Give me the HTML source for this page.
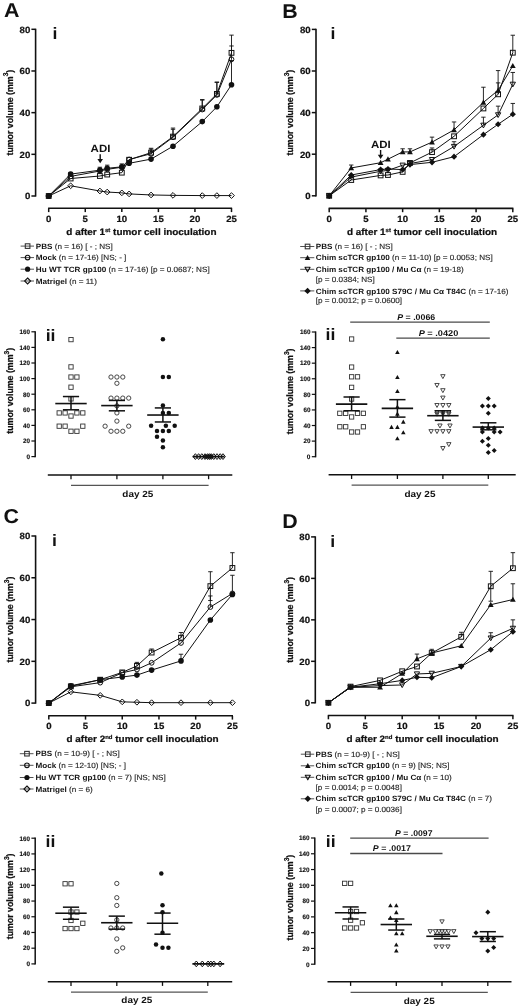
<!DOCTYPE html>
<html><head><meta charset="utf-8"><title>figure</title>
<style>
html,body{margin:0;padding:0;background:#fff;}
body{width:520px;height:1008px;overflow:hidden;font-family:"Liberation Sans", sans-serif;}
svg{display:block;will-change:transform;text-rendering:geometricPrecision;}
</style></head><body>
<svg width="520" height="1008" viewBox="0 0 520 1008" font-family='"Liberation Sans", sans-serif'>
<rect width="520" height="1008" fill="#fff"/>
<text transform="translate(4,17.4) scale(1.07,1)" font-size="20" font-weight="bold" text-anchor="start" fill="#111">A</text>
<text transform="translate(282.2,17.5) scale(1.07,1)" font-size="20" font-weight="bold" text-anchor="start" fill="#111">B</text>
<text transform="translate(3.6,523.3) scale(1.07,1)" font-size="20" font-weight="bold" text-anchor="start" fill="#111">C</text>
<text transform="translate(282.2,527.6) scale(1.07,1)" font-size="20" font-weight="bold" text-anchor="start" fill="#111">D</text>
<line x1="35.6" y1="28.7" x2="35.6" y2="196.6" stroke="#111" stroke-width="1.6"/>
<line x1="31.4" y1="196" x2="35.6" y2="196" stroke="#111" stroke-width="1.5"/>
<text transform="translate(30.3,199.3) scale(1.07,1)" font-size="9" font-weight="bold" text-anchor="end" fill="#111" stroke="#111" stroke-width="0.2">0</text>
<line x1="31.4" y1="154.32" x2="35.6" y2="154.32" stroke="#111" stroke-width="1.5"/>
<text transform="translate(30.3,157.62) scale(1.07,1)" font-size="9" font-weight="bold" text-anchor="end" fill="#111" stroke="#111" stroke-width="0.2">20</text>
<line x1="31.4" y1="112.65" x2="35.6" y2="112.65" stroke="#111" stroke-width="1.5"/>
<text transform="translate(30.3,115.95) scale(1.07,1)" font-size="9" font-weight="bold" text-anchor="end" fill="#111" stroke="#111" stroke-width="0.2">40</text>
<line x1="31.4" y1="70.98" x2="35.6" y2="70.98" stroke="#111" stroke-width="1.5"/>
<text transform="translate(30.3,74.28) scale(1.07,1)" font-size="9" font-weight="bold" text-anchor="end" fill="#111" stroke="#111" stroke-width="0.2">60</text>
<line x1="31.4" y1="29.3" x2="35.6" y2="29.3" stroke="#111" stroke-width="1.5"/>
<text transform="translate(30.3,32.6) scale(1.07,1)" font-size="9" font-weight="bold" text-anchor="end" fill="#111" stroke="#111" stroke-width="0.2">80</text>
<text transform="translate(12.6,112.65) scale(1.07,1) rotate(-90)" font-size="8.8" font-weight="bold" text-anchor="middle" fill="#111" stroke="#111" stroke-width="0.22">tumor volume (mm<tspan dy="-3.9" font-size="6.6">3</tspan><tspan dy="3.9">)</tspan></text>
<text transform="translate(52.6,38.6) scale(1.07,1)" font-size="16.5" font-weight="bold" text-anchor="start" fill="#111">i</text>
<line x1="48.1" y1="208.3" x2="232.1" y2="208.3" stroke="#111" stroke-width="1.6"/>
<line x1="48.7" y1="208.3" x2="48.7" y2="212.1" stroke="#111" stroke-width="1.5"/>
<text transform="translate(48.7,221.8) scale(1.07,1)" font-size="9" font-weight="bold" text-anchor="middle" fill="#111" stroke="#111" stroke-width="0.2">0</text>
<line x1="85.26" y1="208.3" x2="85.26" y2="212.1" stroke="#111" stroke-width="1.5"/>
<text transform="translate(85.26,221.8) scale(1.07,1)" font-size="9" font-weight="bold" text-anchor="middle" fill="#111" stroke="#111" stroke-width="0.2">5</text>
<line x1="121.82" y1="208.3" x2="121.82" y2="212.1" stroke="#111" stroke-width="1.5"/>
<text transform="translate(121.82,221.8) scale(1.07,1)" font-size="9" font-weight="bold" text-anchor="middle" fill="#111" stroke="#111" stroke-width="0.2">10</text>
<line x1="158.38" y1="208.3" x2="158.38" y2="212.1" stroke="#111" stroke-width="1.5"/>
<text transform="translate(158.38,221.8) scale(1.07,1)" font-size="9" font-weight="bold" text-anchor="middle" fill="#111" stroke="#111" stroke-width="0.2">15</text>
<line x1="194.94" y1="208.3" x2="194.94" y2="212.1" stroke="#111" stroke-width="1.5"/>
<text transform="translate(194.94,221.8) scale(1.07,1)" font-size="9" font-weight="bold" text-anchor="middle" fill="#111" stroke="#111" stroke-width="0.2">20</text>
<line x1="231.5" y1="208.3" x2="231.5" y2="212.1" stroke="#111" stroke-width="1.5"/>
<text transform="translate(231.5,221.8) scale(1.07,1)" font-size="9" font-weight="bold" text-anchor="middle" fill="#111" stroke="#111" stroke-width="0.2">25</text>
<text transform="translate(66.3,235.4) scale(1.07,1)" font-size="9.3" font-weight="bold" text-anchor="start" fill="#111" stroke="#111" stroke-width="0.22">d after 1<tspan dy="-3.6" font-size="5.6">st</tspan><tspan dy="3.6"> tumor cell inoculation</tspan></text>
<text transform="translate(90.6,151.8) scale(1.07,1)" font-size="10.6" font-weight="bold" text-anchor="start" fill="#111" textLength="18.5" lengthAdjust="spacingAndGlyphs">ADI</text>
<line x1="100.2" y1="154.3" x2="100.2" y2="161.3" stroke="#111" stroke-width="1.4"/>
<polygon points="97.4,159 103,159 100.2,163.3" fill="#111"/>
<polyline points="48.7,196 70.64,185.79 99.88,191 107.2,192.04 121.82,192.87 129.13,193.92 151.07,194.96 173,195.37 202.25,195.58 216.88,195.58 231.5,195.58" fill="none" stroke="#111" stroke-width="1" stroke-linejoin="round"/>
<polygon points="48.7,193.14 51.56,196 48.7,198.86 45.84,196" fill="none" stroke="#111" stroke-width="1"/>
<polygon points="70.64,182.93 73.5,185.79 70.64,188.65 67.78,185.79" fill="none" stroke="#111" stroke-width="1"/>
<polygon points="99.88,188.14 102.74,191 99.88,193.86 97.02,191" fill="none" stroke="#111" stroke-width="1"/>
<polygon points="107.2,189.18 110.06,192.04 107.2,194.9 104.34,192.04" fill="none" stroke="#111" stroke-width="1"/>
<polygon points="121.82,190.01 124.68,192.87 121.82,195.73 118.96,192.87" fill="none" stroke="#111" stroke-width="1"/>
<polygon points="129.13,191.06 131.99,193.92 129.13,196.78 126.27,193.92" fill="none" stroke="#111" stroke-width="1"/>
<polygon points="151.07,192.1 153.93,194.96 151.07,197.82 148.21,194.96" fill="none" stroke="#111" stroke-width="1"/>
<polygon points="173,192.51 175.86,195.37 173,198.23 170.14,195.37" fill="none" stroke="#111" stroke-width="1"/>
<polygon points="202.25,192.72 205.11,195.58 202.25,198.44 199.39,195.58" fill="none" stroke="#111" stroke-width="1"/>
<polygon points="216.88,192.72 219.74,195.58 216.88,198.44 214.02,195.58" fill="none" stroke="#111" stroke-width="1"/>
<polygon points="231.5,192.72 234.36,195.58 231.5,198.44 228.64,195.58" fill="none" stroke="#111" stroke-width="1"/>
<polyline points="48.7,196 70.64,178.5 99.88,176 107.2,174.54 121.82,172.66 129.13,159.74 151.07,152.66 173,136.61 202.25,108.48 216.88,93.9 231.5,52.85" fill="none" stroke="#111" stroke-width="1" stroke-linejoin="round"/>
<line x1="231.5" y1="52.85" x2="231.5" y2="35.13" stroke="#111" stroke-width="0.9"/>
<line x1="229.3" y1="35.13" x2="233.7" y2="35.13" stroke="#111" stroke-width="0.9"/>
<line x1="151.07" y1="152.66" x2="151.07" y2="148.28" stroke="#111" stroke-width="0.9"/>
<line x1="148.87" y1="148.28" x2="153.27" y2="148.28" stroke="#111" stroke-width="0.9"/>
<line x1="173" y1="136.61" x2="173" y2="128.07" stroke="#111" stroke-width="0.9"/>
<line x1="170.8" y1="128.07" x2="175.2" y2="128.07" stroke="#111" stroke-width="0.9"/>
<line x1="202.25" y1="108.48" x2="202.25" y2="99.52" stroke="#111" stroke-width="0.9"/>
<line x1="200.05" y1="99.52" x2="204.45" y2="99.52" stroke="#111" stroke-width="0.9"/>
<line x1="216.88" y1="93.9" x2="216.88" y2="82.02" stroke="#111" stroke-width="0.9"/>
<line x1="214.68" y1="82.02" x2="219.08" y2="82.02" stroke="#111" stroke-width="0.9"/>
<rect x="46.3" y="193.6" width="4.8" height="4.8" fill="none" stroke="#111" stroke-width="1"/>
<rect x="68.24" y="176.1" width="4.8" height="4.8" fill="none" stroke="#111" stroke-width="1"/>
<rect x="97.48" y="173.6" width="4.8" height="4.8" fill="none" stroke="#111" stroke-width="1"/>
<rect x="104.8" y="172.14" width="4.8" height="4.8" fill="none" stroke="#111" stroke-width="1"/>
<rect x="119.42" y="170.26" width="4.8" height="4.8" fill="none" stroke="#111" stroke-width="1"/>
<rect x="126.73" y="157.34" width="4.8" height="4.8" fill="none" stroke="#111" stroke-width="1"/>
<rect x="148.67" y="150.26" width="4.8" height="4.8" fill="none" stroke="#111" stroke-width="1"/>
<rect x="170.6" y="134.21" width="4.8" height="4.8" fill="none" stroke="#111" stroke-width="1"/>
<rect x="199.85" y="106.08" width="4.8" height="4.8" fill="none" stroke="#111" stroke-width="1"/>
<rect x="214.48" y="91.5" width="4.8" height="4.8" fill="none" stroke="#111" stroke-width="1"/>
<rect x="229.1" y="50.45" width="4.8" height="4.8" fill="none" stroke="#111" stroke-width="1"/>
<polyline points="48.7,196 70.64,176.41 99.88,171 107.2,169.33 121.82,167.24 129.13,159.53 151.07,153.7 173,137.24 202.25,109.52 216.88,94.94 231.5,59.31" fill="none" stroke="#111" stroke-width="1" stroke-linejoin="round"/>
<line x1="151.07" y1="153.7" x2="151.07" y2="149.12" stroke="#111" stroke-width="0.9"/>
<line x1="148.87" y1="149.12" x2="153.27" y2="149.12" stroke="#111" stroke-width="0.9"/>
<line x1="173" y1="137.24" x2="173" y2="129.32" stroke="#111" stroke-width="0.9"/>
<line x1="170.8" y1="129.32" x2="175.2" y2="129.32" stroke="#111" stroke-width="0.9"/>
<line x1="202.25" y1="109.52" x2="202.25" y2="100.15" stroke="#111" stroke-width="0.9"/>
<line x1="200.05" y1="100.15" x2="204.45" y2="100.15" stroke="#111" stroke-width="0.9"/>
<line x1="216.88" y1="94.94" x2="216.88" y2="82.44" stroke="#111" stroke-width="0.9"/>
<line x1="214.68" y1="82.44" x2="219.08" y2="82.44" stroke="#111" stroke-width="0.9"/>
<line x1="231.5" y1="59.31" x2="231.5" y2="45.97" stroke="#111" stroke-width="0.9"/>
<line x1="229.3" y1="45.97" x2="233.7" y2="45.97" stroke="#111" stroke-width="0.9"/>
<circle cx="48.7" cy="196" r="2.4" fill="none" stroke="#111" stroke-width="1"/>
<circle cx="70.64" cy="176.41" r="2.4" fill="none" stroke="#111" stroke-width="1"/>
<circle cx="99.88" cy="171" r="2.4" fill="none" stroke="#111" stroke-width="1"/>
<circle cx="107.2" cy="169.33" r="2.4" fill="none" stroke="#111" stroke-width="1"/>
<circle cx="121.82" cy="167.24" r="2.4" fill="none" stroke="#111" stroke-width="1"/>
<circle cx="129.13" cy="159.53" r="2.4" fill="none" stroke="#111" stroke-width="1"/>
<circle cx="151.07" cy="153.7" r="2.4" fill="none" stroke="#111" stroke-width="1"/>
<circle cx="173" cy="137.24" r="2.4" fill="none" stroke="#111" stroke-width="1"/>
<circle cx="202.25" cy="109.52" r="2.4" fill="none" stroke="#111" stroke-width="1"/>
<circle cx="216.88" cy="94.94" r="2.4" fill="none" stroke="#111" stroke-width="1"/>
<circle cx="231.5" cy="59.31" r="2.4" fill="none" stroke="#111" stroke-width="1"/>
<polyline points="48.7,196 70.64,174.12 99.88,170.16 107.2,168.29 121.82,166.83 129.13,163.29 151.07,159.12 173,146.2 202.25,121.61 216.88,106.82 231.5,84.73" fill="none" stroke="#111" stroke-width="1" stroke-linejoin="round"/>
<line x1="231.5" y1="84.73" x2="231.5" y2="60.56" stroke="#111" stroke-width="0.9"/>
<line x1="229.3" y1="60.56" x2="233.7" y2="60.56" stroke="#111" stroke-width="0.9"/>
<line x1="99.88" y1="170.16" x2="99.88" y2="167.24" stroke="#111" stroke-width="0.9"/>
<line x1="97.68" y1="167.24" x2="102.08" y2="167.24" stroke="#111" stroke-width="0.9"/>
<line x1="107.2" y1="168.29" x2="107.2" y2="165.16" stroke="#111" stroke-width="0.9"/>
<line x1="105" y1="165.16" x2="109.4" y2="165.16" stroke="#111" stroke-width="0.9"/>
<line x1="121.82" y1="166.83" x2="121.82" y2="163.91" stroke="#111" stroke-width="0.9"/>
<line x1="119.62" y1="163.91" x2="124.02" y2="163.91" stroke="#111" stroke-width="0.9"/>
<line x1="129.13" y1="163.29" x2="129.13" y2="160.58" stroke="#111" stroke-width="0.9"/>
<line x1="126.93" y1="160.58" x2="131.33" y2="160.58" stroke="#111" stroke-width="0.9"/>
<line x1="70.64" y1="174.12" x2="70.64" y2="172.45" stroke="#111" stroke-width="0.9"/>
<line x1="68.44" y1="172.45" x2="72.84" y2="172.45" stroke="#111" stroke-width="0.9"/>
<circle cx="48.7" cy="196" r="2.8" fill="#111"/>
<circle cx="70.64" cy="174.12" r="2.8" fill="#111"/>
<circle cx="99.88" cy="170.16" r="2.8" fill="#111"/>
<circle cx="107.2" cy="168.29" r="2.8" fill="#111"/>
<circle cx="121.82" cy="166.83" r="2.8" fill="#111"/>
<circle cx="129.13" cy="163.29" r="2.8" fill="#111"/>
<circle cx="151.07" cy="159.12" r="2.8" fill="#111"/>
<circle cx="173" cy="146.2" r="2.8" fill="#111"/>
<circle cx="202.25" cy="121.61" r="2.8" fill="#111"/>
<circle cx="216.88" cy="106.82" r="2.8" fill="#111"/>
<circle cx="231.5" cy="84.73" r="2.8" fill="#111"/>
<line x1="316" y1="28.8" x2="316" y2="196.4" stroke="#111" stroke-width="1.6"/>
<line x1="311.8" y1="195.8" x2="316" y2="195.8" stroke="#111" stroke-width="1.5"/>
<text transform="translate(310.7,199.1) scale(1.07,1)" font-size="9" font-weight="bold" text-anchor="end" fill="#111" stroke="#111" stroke-width="0.2">0</text>
<line x1="311.8" y1="154.2" x2="316" y2="154.2" stroke="#111" stroke-width="1.5"/>
<text transform="translate(310.7,157.5) scale(1.07,1)" font-size="9" font-weight="bold" text-anchor="end" fill="#111" stroke="#111" stroke-width="0.2">20</text>
<line x1="311.8" y1="112.6" x2="316" y2="112.6" stroke="#111" stroke-width="1.5"/>
<text transform="translate(310.7,115.9) scale(1.07,1)" font-size="9" font-weight="bold" text-anchor="end" fill="#111" stroke="#111" stroke-width="0.2">40</text>
<line x1="311.8" y1="71" x2="316" y2="71" stroke="#111" stroke-width="1.5"/>
<text transform="translate(310.7,74.3) scale(1.07,1)" font-size="9" font-weight="bold" text-anchor="end" fill="#111" stroke="#111" stroke-width="0.2">60</text>
<line x1="311.8" y1="29.4" x2="316" y2="29.4" stroke="#111" stroke-width="1.5"/>
<text transform="translate(310.7,32.7) scale(1.07,1)" font-size="9" font-weight="bold" text-anchor="end" fill="#111" stroke="#111" stroke-width="0.2">80</text>
<text transform="translate(293.4,112.6) scale(1.07,1) rotate(-90)" font-size="8.8" font-weight="bold" text-anchor="middle" fill="#111" stroke="#111" stroke-width="0.22">tumor volume (mm<tspan dy="-3.9" font-size="6.6">3</tspan><tspan dy="3.9">)</tspan></text>
<text transform="translate(330.6,38.6) scale(1.07,1)" font-size="16.5" font-weight="bold" text-anchor="start" fill="#111">i</text>
<line x1="328.6" y1="208.4" x2="513.4" y2="208.4" stroke="#111" stroke-width="1.6"/>
<line x1="329.2" y1="208.4" x2="329.2" y2="212.2" stroke="#111" stroke-width="1.5"/>
<text transform="translate(329.2,221.9) scale(1.07,1)" font-size="9" font-weight="bold" text-anchor="middle" fill="#111" stroke="#111" stroke-width="0.2">0</text>
<line x1="365.92" y1="208.4" x2="365.92" y2="212.2" stroke="#111" stroke-width="1.5"/>
<text transform="translate(365.92,221.9) scale(1.07,1)" font-size="9" font-weight="bold" text-anchor="middle" fill="#111" stroke="#111" stroke-width="0.2">5</text>
<line x1="402.64" y1="208.4" x2="402.64" y2="212.2" stroke="#111" stroke-width="1.5"/>
<text transform="translate(402.64,221.9) scale(1.07,1)" font-size="9" font-weight="bold" text-anchor="middle" fill="#111" stroke="#111" stroke-width="0.2">10</text>
<line x1="439.36" y1="208.4" x2="439.36" y2="212.2" stroke="#111" stroke-width="1.5"/>
<text transform="translate(439.36,221.9) scale(1.07,1)" font-size="9" font-weight="bold" text-anchor="middle" fill="#111" stroke="#111" stroke-width="0.2">15</text>
<line x1="476.08" y1="208.4" x2="476.08" y2="212.2" stroke="#111" stroke-width="1.5"/>
<text transform="translate(476.08,221.9) scale(1.07,1)" font-size="9" font-weight="bold" text-anchor="middle" fill="#111" stroke="#111" stroke-width="0.2">20</text>
<line x1="512.8" y1="208.4" x2="512.8" y2="212.2" stroke="#111" stroke-width="1.5"/>
<text transform="translate(512.8,221.9) scale(1.07,1)" font-size="9" font-weight="bold" text-anchor="middle" fill="#111" stroke="#111" stroke-width="0.2">25</text>
<text transform="translate(346.9,235.4) scale(1.07,1)" font-size="9.3" font-weight="bold" text-anchor="start" fill="#111" stroke="#111" stroke-width="0.22">d after 1<tspan dy="-3.6" font-size="5.6">st</tspan><tspan dy="3.6"> tumor cell inoculation</tspan></text>
<text transform="translate(371,147.5) scale(1.07,1)" font-size="10.6" font-weight="bold" text-anchor="start" fill="#111" textLength="18.5" lengthAdjust="spacingAndGlyphs">ADI</text>
<line x1="380.6" y1="150" x2="380.6" y2="157" stroke="#111" stroke-width="1.4"/>
<polygon points="377.8,154.7 383.4,154.7 380.6,159" fill="#111"/>
<polyline points="329.2,195.8 351.23,179.99 380.61,175.42 387.95,175 402.64,171.88 409.98,162.94 432.02,152.12 454.05,136.31 483.42,108.44 498.11,94.3 512.8,52.7" fill="none" stroke="#111" stroke-width="1" stroke-linejoin="round"/>
<line x1="512.8" y1="52.7" x2="512.8" y2="35.22" stroke="#111" stroke-width="0.9"/>
<line x1="510.6" y1="35.22" x2="515" y2="35.22" stroke="#111" stroke-width="0.9"/>
<line x1="498.11" y1="94.3" x2="498.11" y2="82.86" stroke="#111" stroke-width="0.9"/>
<line x1="495.91" y1="82.86" x2="500.31" y2="82.86" stroke="#111" stroke-width="0.9"/>
<line x1="432.02" y1="152.12" x2="432.02" y2="147.96" stroke="#111" stroke-width="0.9"/>
<line x1="429.82" y1="147.96" x2="434.22" y2="147.96" stroke="#111" stroke-width="0.9"/>
<rect x="326.8" y="193.4" width="4.8" height="4.8" fill="none" stroke="#111" stroke-width="1"/>
<rect x="348.83" y="177.59" width="4.8" height="4.8" fill="none" stroke="#111" stroke-width="1"/>
<rect x="378.21" y="173.02" width="4.8" height="4.8" fill="none" stroke="#111" stroke-width="1"/>
<rect x="385.55" y="172.6" width="4.8" height="4.8" fill="none" stroke="#111" stroke-width="1"/>
<rect x="400.24" y="169.48" width="4.8" height="4.8" fill="none" stroke="#111" stroke-width="1"/>
<rect x="407.58" y="160.54" width="4.8" height="4.8" fill="none" stroke="#111" stroke-width="1"/>
<rect x="429.62" y="149.72" width="4.8" height="4.8" fill="none" stroke="#111" stroke-width="1"/>
<rect x="451.65" y="133.91" width="4.8" height="4.8" fill="none" stroke="#111" stroke-width="1"/>
<rect x="481.02" y="106.04" width="4.8" height="4.8" fill="none" stroke="#111" stroke-width="1"/>
<rect x="495.71" y="91.9" width="4.8" height="4.8" fill="none" stroke="#111" stroke-width="1"/>
<rect x="510.4" y="50.3" width="4.8" height="4.8" fill="none" stroke="#111" stroke-width="1"/>
<polyline points="329.2,195.8 351.23,167.93 380.61,162.73 387.95,159.19 402.64,151.91 409.98,151.91 432.02,142.14 454.05,129.86 483.42,102.41 498.11,90.34 512.8,65.8" fill="none" stroke="#111" stroke-width="1" stroke-linejoin="round"/>
<line x1="351.23" y1="167.93" x2="351.23" y2="165.02" stroke="#111" stroke-width="0.9"/>
<line x1="349.03" y1="165.02" x2="353.43" y2="165.02" stroke="#111" stroke-width="0.9"/>
<line x1="402.64" y1="151.91" x2="402.64" y2="148.79" stroke="#111" stroke-width="0.9"/>
<line x1="400.44" y1="148.79" x2="404.84" y2="148.79" stroke="#111" stroke-width="0.9"/>
<line x1="409.98" y1="151.91" x2="409.98" y2="148.79" stroke="#111" stroke-width="0.9"/>
<line x1="407.78" y1="148.79" x2="412.18" y2="148.79" stroke="#111" stroke-width="0.9"/>
<line x1="432.02" y1="142.14" x2="432.02" y2="137.14" stroke="#111" stroke-width="0.9"/>
<line x1="429.82" y1="137.14" x2="434.22" y2="137.14" stroke="#111" stroke-width="0.9"/>
<line x1="454.05" y1="129.86" x2="454.05" y2="121.96" stroke="#111" stroke-width="0.9"/>
<line x1="451.85" y1="121.96" x2="456.25" y2="121.96" stroke="#111" stroke-width="0.9"/>
<line x1="483.42" y1="102.41" x2="483.42" y2="87.22" stroke="#111" stroke-width="0.9"/>
<line x1="481.22" y1="87.22" x2="485.62" y2="87.22" stroke="#111" stroke-width="0.9"/>
<line x1="498.11" y1="90.34" x2="498.11" y2="70.58" stroke="#111" stroke-width="0.9"/>
<line x1="495.91" y1="70.58" x2="500.31" y2="70.58" stroke="#111" stroke-width="0.9"/>
<polygon points="329.2,192.92 332.08,198.1 326.32,198.1" fill="#111"/>
<polygon points="351.23,165.05 354.11,170.23 348.35,170.23" fill="#111"/>
<polygon points="380.61,159.85 383.49,165.03 377.73,165.03" fill="#111"/>
<polygon points="387.95,156.31 390.83,161.5 385.07,161.5" fill="#111"/>
<polygon points="402.64,149.03 405.52,154.22 399.76,154.22" fill="#111"/>
<polygon points="409.98,149.03 412.86,154.22 407.1,154.22" fill="#111"/>
<polygon points="432.02,139.26 434.9,144.44 429.14,144.44" fill="#111"/>
<polygon points="454.05,126.98 456.93,132.17 451.17,132.17" fill="#111"/>
<polygon points="483.42,99.53 486.3,104.71 480.54,104.71" fill="#111"/>
<polygon points="498.11,87.46 500.99,92.65 495.23,92.65" fill="#111"/>
<polygon points="512.8,62.92 515.68,68.1 509.92,68.1" fill="#111"/>
<polyline points="329.2,195.8 351.23,177.08 380.61,171.26 387.95,170.42 402.64,165.22 409.98,163.56 432.02,159.61 454.05,146.5 483.42,125.29 498.11,114.89 512.8,84.31" fill="none" stroke="#111" stroke-width="1" stroke-linejoin="round"/>
<line x1="483.42" y1="125.29" x2="483.42" y2="117.18" stroke="#111" stroke-width="0.9"/>
<line x1="481.22" y1="117.18" x2="485.62" y2="117.18" stroke="#111" stroke-width="0.9"/>
<line x1="498.11" y1="114.89" x2="498.11" y2="106.15" stroke="#111" stroke-width="0.9"/>
<line x1="495.91" y1="106.15" x2="500.31" y2="106.15" stroke="#111" stroke-width="0.9"/>
<line x1="512.8" y1="84.31" x2="512.8" y2="72.46" stroke="#111" stroke-width="0.9"/>
<line x1="510.6" y1="72.46" x2="515" y2="72.46" stroke="#111" stroke-width="0.9"/>
<line x1="454.05" y1="146.5" x2="454.05" y2="141.72" stroke="#111" stroke-width="0.9"/>
<line x1="451.85" y1="141.72" x2="456.25" y2="141.72" stroke="#111" stroke-width="0.9"/>
<polygon points="326.56,193.69 331.84,193.69 329.2,198.44" fill="none" stroke="#111" stroke-width="1" stroke-linejoin="round"/>
<polygon points="348.59,174.97 353.87,174.97 351.23,179.72" fill="none" stroke="#111" stroke-width="1" stroke-linejoin="round"/>
<polygon points="377.97,169.14 383.25,169.14 380.61,173.9" fill="none" stroke="#111" stroke-width="1" stroke-linejoin="round"/>
<polygon points="385.31,168.31 390.59,168.31 387.95,173.06" fill="none" stroke="#111" stroke-width="1" stroke-linejoin="round"/>
<polygon points="400,163.11 405.28,163.11 402.64,167.86" fill="none" stroke="#111" stroke-width="1" stroke-linejoin="round"/>
<polygon points="407.34,161.45 412.62,161.45 409.98,166.2" fill="none" stroke="#111" stroke-width="1" stroke-linejoin="round"/>
<polygon points="429.38,157.5 434.66,157.5 432.02,162.25" fill="none" stroke="#111" stroke-width="1" stroke-linejoin="round"/>
<polygon points="451.41,144.39 456.69,144.39 454.05,149.14" fill="none" stroke="#111" stroke-width="1" stroke-linejoin="round"/>
<polygon points="480.78,123.18 486.06,123.18 483.42,127.93" fill="none" stroke="#111" stroke-width="1" stroke-linejoin="round"/>
<polygon points="495.47,112.78 500.75,112.78 498.11,117.53" fill="none" stroke="#111" stroke-width="1" stroke-linejoin="round"/>
<polygon points="510.16,82.2 515.44,82.2 512.8,86.95" fill="none" stroke="#111" stroke-width="1" stroke-linejoin="round"/>
<polyline points="329.2,195.8 351.23,175 380.61,169.59 387.95,168.97 402.64,169.59 409.98,164.6 432.02,162.31 454.05,156.7 483.42,134.65 498.11,124.25 512.8,114.26" fill="none" stroke="#111" stroke-width="1" stroke-linejoin="round"/>
<line x1="512.8" y1="114.26" x2="512.8" y2="103.45" stroke="#111" stroke-width="0.9"/>
<line x1="510.6" y1="103.45" x2="515" y2="103.45" stroke="#111" stroke-width="0.9"/>
<polygon points="329.2,192.72 332.28,195.8 329.2,198.88 326.12,195.8" fill="#111"/>
<polygon points="351.23,171.92 354.31,175 351.23,178.08 348.15,175" fill="#111"/>
<polygon points="380.61,166.51 383.69,169.59 380.61,172.67 377.53,169.59" fill="#111"/>
<polygon points="387.95,165.89 391.03,168.97 387.95,172.05 384.87,168.97" fill="#111"/>
<polygon points="402.64,166.51 405.72,169.59 402.64,172.67 399.56,169.59" fill="#111"/>
<polygon points="409.98,161.52 413.06,164.6 409.98,167.68 406.9,164.6" fill="#111"/>
<polygon points="432.02,159.23 435.1,162.31 432.02,165.39 428.94,162.31" fill="#111"/>
<polygon points="454.05,153.62 457.13,156.7 454.05,159.78 450.97,156.7" fill="#111"/>
<polygon points="483.42,131.57 486.5,134.65 483.42,137.73 480.34,134.65" fill="#111"/>
<polygon points="498.11,121.17 501.19,124.25 498.11,127.33 495.03,124.25" fill="#111"/>
<polygon points="512.8,111.18 515.88,114.26 512.8,117.34 509.72,114.26" fill="#111"/>
<line x1="35.6" y1="535.4" x2="35.6" y2="703.7" stroke="#111" stroke-width="1.6"/>
<line x1="31.4" y1="703.1" x2="35.6" y2="703.1" stroke="#111" stroke-width="1.5"/>
<text transform="translate(30.3,706.4) scale(1.07,1)" font-size="9" font-weight="bold" text-anchor="end" fill="#111" stroke="#111" stroke-width="0.2">0</text>
<line x1="31.4" y1="661.33" x2="35.6" y2="661.33" stroke="#111" stroke-width="1.5"/>
<text transform="translate(30.3,664.62) scale(1.07,1)" font-size="9" font-weight="bold" text-anchor="end" fill="#111" stroke="#111" stroke-width="0.2">20</text>
<line x1="31.4" y1="619.55" x2="35.6" y2="619.55" stroke="#111" stroke-width="1.5"/>
<text transform="translate(30.3,622.85) scale(1.07,1)" font-size="9" font-weight="bold" text-anchor="end" fill="#111" stroke="#111" stroke-width="0.2">40</text>
<line x1="31.4" y1="577.77" x2="35.6" y2="577.77" stroke="#111" stroke-width="1.5"/>
<text transform="translate(30.3,581.07) scale(1.07,1)" font-size="9" font-weight="bold" text-anchor="end" fill="#111" stroke="#111" stroke-width="0.2">60</text>
<line x1="31.4" y1="536" x2="35.6" y2="536" stroke="#111" stroke-width="1.5"/>
<text transform="translate(30.3,539.3) scale(1.07,1)" font-size="9" font-weight="bold" text-anchor="end" fill="#111" stroke="#111" stroke-width="0.2">80</text>
<text transform="translate(12.9,619.55) scale(1.07,1) rotate(-90)" font-size="8.8" font-weight="bold" text-anchor="middle" fill="#111" stroke="#111" stroke-width="0.22">tumor volume (mm<tspan dy="-3.9" font-size="6.6">3</tspan><tspan dy="3.9">)</tspan></text>
<text transform="translate(52,546) scale(1.07,1)" font-size="16.5" font-weight="bold" text-anchor="start" fill="#111">i</text>
<line x1="48.2" y1="715.8" x2="233" y2="715.8" stroke="#111" stroke-width="1.6"/>
<line x1="48.8" y1="715.8" x2="48.8" y2="719.6" stroke="#111" stroke-width="1.5"/>
<text transform="translate(48.8,729.3) scale(1.07,1)" font-size="9" font-weight="bold" text-anchor="middle" fill="#111" stroke="#111" stroke-width="0.2">0</text>
<line x1="85.52" y1="715.8" x2="85.52" y2="719.6" stroke="#111" stroke-width="1.5"/>
<text transform="translate(85.52,729.3) scale(1.07,1)" font-size="9" font-weight="bold" text-anchor="middle" fill="#111" stroke="#111" stroke-width="0.2">5</text>
<line x1="122.24" y1="715.8" x2="122.24" y2="719.6" stroke="#111" stroke-width="1.5"/>
<text transform="translate(122.24,729.3) scale(1.07,1)" font-size="9" font-weight="bold" text-anchor="middle" fill="#111" stroke="#111" stroke-width="0.2">10</text>
<line x1="158.96" y1="715.8" x2="158.96" y2="719.6" stroke="#111" stroke-width="1.5"/>
<text transform="translate(158.96,729.3) scale(1.07,1)" font-size="9" font-weight="bold" text-anchor="middle" fill="#111" stroke="#111" stroke-width="0.2">15</text>
<line x1="195.68" y1="715.8" x2="195.68" y2="719.6" stroke="#111" stroke-width="1.5"/>
<text transform="translate(195.68,729.3) scale(1.07,1)" font-size="9" font-weight="bold" text-anchor="middle" fill="#111" stroke="#111" stroke-width="0.2">20</text>
<line x1="232.4" y1="715.8" x2="232.4" y2="719.6" stroke="#111" stroke-width="1.5"/>
<text transform="translate(232.4,729.3) scale(1.07,1)" font-size="9" font-weight="bold" text-anchor="middle" fill="#111" stroke="#111" stroke-width="0.2">25</text>
<text transform="translate(66.5,742.4) scale(1.07,1)" font-size="9.3" font-weight="bold" text-anchor="start" fill="#111" stroke="#111" stroke-width="0.22">d after 2<tspan dy="-3.6" font-size="5.6">nd</tspan><tspan dy="3.6"> tumor cell inoculation</tspan></text>
<polyline points="48.8,703.1 70.83,691.82 100.21,695.37 122.24,701.85 136.93,702.26 151.62,702.68 180.99,702.68 210.37,702.68 232.4,702.68" fill="none" stroke="#111" stroke-width="1" stroke-linejoin="round"/>
<polygon points="48.8,700.24 51.66,703.1 48.8,705.96 45.94,703.1" fill="none" stroke="#111" stroke-width="1"/>
<polygon points="70.83,688.96 73.69,691.82 70.83,694.68 67.97,691.82" fill="none" stroke="#111" stroke-width="1"/>
<polygon points="100.21,692.51 103.07,695.37 100.21,698.23 97.35,695.37" fill="none" stroke="#111" stroke-width="1"/>
<polygon points="122.24,698.99 125.1,701.85 122.24,704.71 119.38,701.85" fill="none" stroke="#111" stroke-width="1"/>
<polygon points="136.93,699.4 139.79,702.26 136.93,705.12 134.07,702.26" fill="none" stroke="#111" stroke-width="1"/>
<polygon points="151.62,699.82 154.48,702.68 151.62,705.54 148.76,702.68" fill="none" stroke="#111" stroke-width="1"/>
<polygon points="180.99,699.82 183.85,702.68 180.99,705.54 178.13,702.68" fill="none" stroke="#111" stroke-width="1"/>
<polygon points="210.37,699.82 213.23,702.68 210.37,705.54 207.51,702.68" fill="none" stroke="#111" stroke-width="1"/>
<polygon points="232.4,699.82 235.26,702.68 232.4,705.54 229.54,702.68" fill="none" stroke="#111" stroke-width="1"/>
<polyline points="48.8,703.1 70.83,686.39 100.21,679.71 122.24,672.4 136.93,665.92 151.62,652.55 180.99,637.72 210.37,586.13 232.4,567.96" fill="none" stroke="#111" stroke-width="1" stroke-linejoin="round"/>
<line x1="136.93" y1="665.92" x2="136.93" y2="662.37" stroke="#111" stroke-width="0.9"/>
<line x1="134.73" y1="662.37" x2="139.13" y2="662.37" stroke="#111" stroke-width="0.9"/>
<line x1="151.62" y1="652.55" x2="151.62" y2="649" stroke="#111" stroke-width="0.9"/>
<line x1="149.42" y1="649" x2="153.82" y2="649" stroke="#111" stroke-width="0.9"/>
<line x1="180.99" y1="637.72" x2="180.99" y2="632.5" stroke="#111" stroke-width="0.9"/>
<line x1="178.79" y1="632.5" x2="183.19" y2="632.5" stroke="#111" stroke-width="0.9"/>
<line x1="210.37" y1="586.13" x2="210.37" y2="571.72" stroke="#111" stroke-width="0.9"/>
<line x1="208.17" y1="571.72" x2="212.57" y2="571.72" stroke="#111" stroke-width="0.9"/>
<line x1="232.4" y1="567.96" x2="232.4" y2="552.71" stroke="#111" stroke-width="0.9"/>
<line x1="230.2" y1="552.71" x2="234.6" y2="552.71" stroke="#111" stroke-width="0.9"/>
<line x1="210.37" y1="586.13" x2="210.37" y2="600.54" stroke="#111" stroke-width="0.9"/>
<line x1="208.17" y1="600.54" x2="212.57" y2="600.54" stroke="#111" stroke-width="0.9"/>
<rect x="46.4" y="700.7" width="4.8" height="4.8" fill="none" stroke="#111" stroke-width="1"/>
<rect x="68.43" y="683.99" width="4.8" height="4.8" fill="none" stroke="#111" stroke-width="1"/>
<rect x="97.81" y="677.31" width="4.8" height="4.8" fill="none" stroke="#111" stroke-width="1"/>
<rect x="119.84" y="670" width="4.8" height="4.8" fill="none" stroke="#111" stroke-width="1"/>
<rect x="134.53" y="663.52" width="4.8" height="4.8" fill="none" stroke="#111" stroke-width="1"/>
<rect x="149.22" y="650.15" width="4.8" height="4.8" fill="none" stroke="#111" stroke-width="1"/>
<rect x="178.59" y="635.32" width="4.8" height="4.8" fill="none" stroke="#111" stroke-width="1"/>
<rect x="207.97" y="583.73" width="4.8" height="4.8" fill="none" stroke="#111" stroke-width="1"/>
<rect x="230" y="565.56" width="4.8" height="4.8" fill="none" stroke="#111" stroke-width="1"/>
<polyline points="48.8,703.1 70.83,686.81 100.21,682.63 122.24,672.81 136.93,669.47 151.62,662.79 180.99,642.94 210.37,607.02 232.4,593.44" fill="none" stroke="#111" stroke-width="1" stroke-linejoin="round"/>
<line x1="210.37" y1="607.02" x2="210.37" y2="595.95" stroke="#111" stroke-width="0.9"/>
<line x1="208.17" y1="595.95" x2="212.57" y2="595.95" stroke="#111" stroke-width="0.9"/>
<line x1="232.4" y1="593.44" x2="232.4" y2="575.27" stroke="#111" stroke-width="0.9"/>
<line x1="230.2" y1="575.27" x2="234.6" y2="575.27" stroke="#111" stroke-width="0.9"/>
<circle cx="48.8" cy="703.1" r="2.4" fill="none" stroke="#111" stroke-width="1"/>
<circle cx="70.83" cy="686.81" r="2.4" fill="none" stroke="#111" stroke-width="1"/>
<circle cx="100.21" cy="682.63" r="2.4" fill="none" stroke="#111" stroke-width="1"/>
<circle cx="122.24" cy="672.81" r="2.4" fill="none" stroke="#111" stroke-width="1"/>
<circle cx="136.93" cy="669.47" r="2.4" fill="none" stroke="#111" stroke-width="1"/>
<circle cx="151.62" cy="662.79" r="2.4" fill="none" stroke="#111" stroke-width="1"/>
<circle cx="180.99" cy="642.94" r="2.4" fill="none" stroke="#111" stroke-width="1"/>
<circle cx="210.37" cy="607.02" r="2.4" fill="none" stroke="#111" stroke-width="1"/>
<circle cx="232.4" cy="593.44" r="2.4" fill="none" stroke="#111" stroke-width="1"/>
<polyline points="48.8,703.1 70.83,685.76 100.21,679.71 122.24,676.99 136.93,675.11 151.62,670.1 180.99,660.91 210.37,619.97 232.4,594.49" fill="none" stroke="#111" stroke-width="1" stroke-linejoin="round"/>
<line x1="180.99" y1="660.91" x2="180.99" y2="654.22" stroke="#111" stroke-width="0.9"/>
<line x1="178.79" y1="654.22" x2="183.19" y2="654.22" stroke="#111" stroke-width="0.9"/>
<line x1="70.83" y1="685.76" x2="70.83" y2="684.3" stroke="#111" stroke-width="0.9"/>
<line x1="68.63" y1="684.3" x2="73.03" y2="684.3" stroke="#111" stroke-width="0.9"/>
<line x1="100.21" y1="679.71" x2="100.21" y2="678.03" stroke="#111" stroke-width="0.9"/>
<line x1="98.01" y1="678.03" x2="102.41" y2="678.03" stroke="#111" stroke-width="0.9"/>
<circle cx="48.8" cy="703.1" r="2.8" fill="#111"/>
<circle cx="70.83" cy="685.76" r="2.8" fill="#111"/>
<circle cx="100.21" cy="679.71" r="2.8" fill="#111"/>
<circle cx="122.24" cy="676.99" r="2.8" fill="#111"/>
<circle cx="136.93" cy="675.11" r="2.8" fill="#111"/>
<circle cx="151.62" cy="670.1" r="2.8" fill="#111"/>
<circle cx="180.99" cy="660.91" r="2.8" fill="#111"/>
<circle cx="210.37" cy="619.97" r="2.8" fill="#111"/>
<circle cx="232.4" cy="594.49" r="2.8" fill="#111"/>
<line x1="315.3" y1="536.3" x2="315.3" y2="703.4" stroke="#111" stroke-width="1.6"/>
<line x1="311.1" y1="702.8" x2="315.3" y2="702.8" stroke="#111" stroke-width="1.5"/>
<text transform="translate(310,706.1) scale(1.07,1)" font-size="9" font-weight="bold" text-anchor="end" fill="#111" stroke="#111" stroke-width="0.2">0</text>
<line x1="311.1" y1="661.32" x2="315.3" y2="661.32" stroke="#111" stroke-width="1.5"/>
<text transform="translate(310,664.62) scale(1.07,1)" font-size="9" font-weight="bold" text-anchor="end" fill="#111" stroke="#111" stroke-width="0.2">20</text>
<line x1="311.1" y1="619.85" x2="315.3" y2="619.85" stroke="#111" stroke-width="1.5"/>
<text transform="translate(310,623.15) scale(1.07,1)" font-size="9" font-weight="bold" text-anchor="end" fill="#111" stroke="#111" stroke-width="0.2">40</text>
<line x1="311.1" y1="578.38" x2="315.3" y2="578.38" stroke="#111" stroke-width="1.5"/>
<text transform="translate(310,581.67) scale(1.07,1)" font-size="9" font-weight="bold" text-anchor="end" fill="#111" stroke="#111" stroke-width="0.2">60</text>
<line x1="311.1" y1="536.9" x2="315.3" y2="536.9" stroke="#111" stroke-width="1.5"/>
<text transform="translate(310,540.2) scale(1.07,1)" font-size="9" font-weight="bold" text-anchor="end" fill="#111" stroke="#111" stroke-width="0.2">80</text>
<text transform="translate(293.1,619.85) scale(1.07,1) rotate(-90)" font-size="8.8" font-weight="bold" text-anchor="middle" fill="#111" stroke="#111" stroke-width="0.22">tumor volume (mm<tspan dy="-3.9" font-size="6.6">3</tspan><tspan dy="3.9">)</tspan></text>
<text transform="translate(330.2,546.6) scale(1.07,1)" font-size="16.5" font-weight="bold" text-anchor="start" fill="#111">i</text>
<line x1="327.8" y1="715.5" x2="513.5" y2="715.5" stroke="#111" stroke-width="1.6"/>
<line x1="328.4" y1="715.5" x2="328.4" y2="719.3" stroke="#111" stroke-width="1.5"/>
<text transform="translate(328.4,729) scale(1.07,1)" font-size="9" font-weight="bold" text-anchor="middle" fill="#111" stroke="#111" stroke-width="0.2">0</text>
<line x1="365.3" y1="715.5" x2="365.3" y2="719.3" stroke="#111" stroke-width="1.5"/>
<text transform="translate(365.3,729) scale(1.07,1)" font-size="9" font-weight="bold" text-anchor="middle" fill="#111" stroke="#111" stroke-width="0.2">5</text>
<line x1="402.2" y1="715.5" x2="402.2" y2="719.3" stroke="#111" stroke-width="1.5"/>
<text transform="translate(402.2,729) scale(1.07,1)" font-size="9" font-weight="bold" text-anchor="middle" fill="#111" stroke="#111" stroke-width="0.2">10</text>
<line x1="439.1" y1="715.5" x2="439.1" y2="719.3" stroke="#111" stroke-width="1.5"/>
<text transform="translate(439.1,729) scale(1.07,1)" font-size="9" font-weight="bold" text-anchor="middle" fill="#111" stroke="#111" stroke-width="0.2">15</text>
<line x1="476" y1="715.5" x2="476" y2="719.3" stroke="#111" stroke-width="1.5"/>
<text transform="translate(476,729) scale(1.07,1)" font-size="9" font-weight="bold" text-anchor="middle" fill="#111" stroke="#111" stroke-width="0.2">20</text>
<line x1="512.9" y1="715.5" x2="512.9" y2="719.3" stroke="#111" stroke-width="1.5"/>
<text transform="translate(512.9,729) scale(1.07,1)" font-size="9" font-weight="bold" text-anchor="middle" fill="#111" stroke="#111" stroke-width="0.2">25</text>
<text transform="translate(346.4,742.4) scale(1.07,1)" font-size="9.3" font-weight="bold" text-anchor="start" fill="#111" stroke="#111" stroke-width="0.22">d after 2<tspan dy="-3.6" font-size="5.6">nd</tspan><tspan dy="3.6"> tumor cell inoculation</tspan></text>
<polyline points="328.4,702.8 350.54,686.62 380.06,680.4 402.2,671.28 416.96,666.51 431.72,653.03 461.24,636.85 490.76,586.26 512.9,568.21" fill="none" stroke="#111" stroke-width="1" stroke-linejoin="round"/>
<line x1="431.72" y1="653.03" x2="431.72" y2="649.3" stroke="#111" stroke-width="0.9"/>
<line x1="429.52" y1="649.3" x2="433.92" y2="649.3" stroke="#111" stroke-width="0.9"/>
<line x1="461.24" y1="636.85" x2="461.24" y2="632.29" stroke="#111" stroke-width="0.9"/>
<line x1="459.04" y1="632.29" x2="463.44" y2="632.29" stroke="#111" stroke-width="0.9"/>
<line x1="490.76" y1="586.26" x2="490.76" y2="571.32" stroke="#111" stroke-width="0.9"/>
<line x1="488.56" y1="571.32" x2="492.96" y2="571.32" stroke="#111" stroke-width="0.9"/>
<line x1="512.9" y1="568.21" x2="512.9" y2="552.66" stroke="#111" stroke-width="0.9"/>
<line x1="510.7" y1="552.66" x2="515.1" y2="552.66" stroke="#111" stroke-width="0.9"/>
<line x1="490.76" y1="586.26" x2="490.76" y2="601.19" stroke="#111" stroke-width="0.9"/>
<line x1="488.56" y1="601.19" x2="492.96" y2="601.19" stroke="#111" stroke-width="0.9"/>
<rect x="326" y="700.4" width="4.8" height="4.8" fill="none" stroke="#111" stroke-width="1"/>
<rect x="348.14" y="684.22" width="4.8" height="4.8" fill="none" stroke="#111" stroke-width="1"/>
<rect x="377.66" y="678" width="4.8" height="4.8" fill="none" stroke="#111" stroke-width="1"/>
<rect x="399.8" y="668.88" width="4.8" height="4.8" fill="none" stroke="#111" stroke-width="1"/>
<rect x="414.56" y="664.11" width="4.8" height="4.8" fill="none" stroke="#111" stroke-width="1"/>
<rect x="429.32" y="650.63" width="4.8" height="4.8" fill="none" stroke="#111" stroke-width="1"/>
<rect x="458.84" y="634.45" width="4.8" height="4.8" fill="none" stroke="#111" stroke-width="1"/>
<rect x="488.36" y="583.86" width="4.8" height="4.8" fill="none" stroke="#111" stroke-width="1"/>
<rect x="510.5" y="565.81" width="4.8" height="4.8" fill="none" stroke="#111" stroke-width="1"/>
<polyline points="328.4,702.8 350.54,687.25 380.06,687.25 402.2,673.56 416.96,658.84 431.72,653.03 461.24,645.77 490.76,604.71 512.9,599.53" fill="none" stroke="#111" stroke-width="1" stroke-linejoin="round"/>
<line x1="416.96" y1="658.84" x2="416.96" y2="654.07" stroke="#111" stroke-width="0.9"/>
<line x1="414.76" y1="654.07" x2="419.16" y2="654.07" stroke="#111" stroke-width="0.9"/>
<line x1="512.9" y1="599.53" x2="512.9" y2="583.77" stroke="#111" stroke-width="0.9"/>
<line x1="510.7" y1="583.77" x2="515.1" y2="583.77" stroke="#111" stroke-width="0.9"/>
<polygon points="328.4,699.92 331.28,705.1 325.52,705.1" fill="#111"/>
<polygon points="350.54,684.37 353.42,689.55 347.66,689.55" fill="#111"/>
<polygon points="380.06,684.37 382.94,689.55 377.18,689.55" fill="#111"/>
<polygon points="402.2,670.68 405.08,675.86 399.32,675.86" fill="#111"/>
<polygon points="416.96,655.96 419.84,661.14 414.08,661.14" fill="#111"/>
<polygon points="431.72,650.15 434.6,655.33 428.84,655.33" fill="#111"/>
<polygon points="461.24,642.89 464.12,648.08 458.36,648.08" fill="#111"/>
<polygon points="490.76,601.83 493.64,607.02 487.88,607.02" fill="#111"/>
<polygon points="512.9,596.65 515.78,601.83 510.02,601.83" fill="#111"/>
<polyline points="328.4,702.8 350.54,687.25 380.06,685.59 402.2,684.97 416.96,673.97 431.72,673.35 461.24,666.51 490.76,638.1 512.9,628.35" fill="none" stroke="#111" stroke-width="1" stroke-linejoin="round"/>
<line x1="490.76" y1="638.1" x2="490.76" y2="632.71" stroke="#111" stroke-width="0.9"/>
<line x1="488.56" y1="632.71" x2="492.96" y2="632.71" stroke="#111" stroke-width="0.9"/>
<line x1="512.9" y1="628.35" x2="512.9" y2="619.85" stroke="#111" stroke-width="0.9"/>
<line x1="510.7" y1="619.85" x2="515.1" y2="619.85" stroke="#111" stroke-width="0.9"/>
<polygon points="325.76,700.69 331.04,700.69 328.4,705.44" fill="none" stroke="#111" stroke-width="1" stroke-linejoin="round"/>
<polygon points="347.9,685.13 353.18,685.13 350.54,689.89" fill="none" stroke="#111" stroke-width="1" stroke-linejoin="round"/>
<polygon points="377.42,683.48 382.7,683.48 380.06,688.23" fill="none" stroke="#111" stroke-width="1" stroke-linejoin="round"/>
<polygon points="399.56,682.85 404.84,682.85 402.2,687.61" fill="none" stroke="#111" stroke-width="1" stroke-linejoin="round"/>
<polygon points="414.32,671.86 419.6,671.86 416.96,676.61" fill="none" stroke="#111" stroke-width="1" stroke-linejoin="round"/>
<polygon points="429.08,671.24 434.36,671.24 431.72,675.99" fill="none" stroke="#111" stroke-width="1" stroke-linejoin="round"/>
<polygon points="458.6,664.4 463.88,664.4 461.24,669.15" fill="none" stroke="#111" stroke-width="1" stroke-linejoin="round"/>
<polygon points="488.12,635.99 493.4,635.99 490.76,640.74" fill="none" stroke="#111" stroke-width="1" stroke-linejoin="round"/>
<polygon points="510.26,626.24 515.54,626.24 512.9,630.99" fill="none" stroke="#111" stroke-width="1" stroke-linejoin="round"/>
<polyline points="328.4,702.8 350.54,687.25 380.06,683.72 402.2,680.4 416.96,677.29 431.72,677.71 461.24,666.51 490.76,649.71 512.9,631.67" fill="none" stroke="#111" stroke-width="1" stroke-linejoin="round"/>
<polygon points="328.4,699.72 331.48,702.8 328.4,705.88 325.32,702.8" fill="#111"/>
<polygon points="350.54,684.17 353.62,687.25 350.54,690.33 347.46,687.25" fill="#111"/>
<polygon points="380.06,680.64 383.14,683.72 380.06,686.8 376.98,683.72" fill="#111"/>
<polygon points="402.2,677.32 405.28,680.4 402.2,683.48 399.12,680.4" fill="#111"/>
<polygon points="416.96,674.21 420.04,677.29 416.96,680.37 413.88,677.29" fill="#111"/>
<polygon points="431.72,674.63 434.8,677.71 431.72,680.79 428.64,677.71" fill="#111"/>
<polygon points="461.24,663.43 464.32,666.51 461.24,669.59 458.16,666.51" fill="#111"/>
<polygon points="490.76,646.63 493.84,649.71 490.76,652.79 487.68,649.71" fill="#111"/>
<polygon points="512.9,628.59 515.98,631.67 512.9,634.75 509.82,631.67" fill="#111"/>
<line x1="20.6" y1="246.1" x2="34" y2="246.1" stroke="#333" stroke-width="0.85"/>
<rect x="25.3" y="243.8" width="4.6" height="4.6" fill="none" stroke="#333" stroke-width="1.1"/>
<text transform="translate(35.8,248.7) scale(1.07,1)" font-size="7.6" fill="#111"><tspan font-weight="bold">PBS</tspan><tspan fill="#222" stroke="#333" stroke-width="0.15"> (n = 16) [ - ; NS]</tspan></text>
<line x1="20.6" y1="257.6" x2="34" y2="257.6" stroke="#333" stroke-width="0.85"/>
<circle cx="27.6" cy="257.6" r="2.3" fill="none" stroke="#111" stroke-width="1.1"/>
<text transform="translate(35.8,260.2) scale(1.07,1)" font-size="7.6" fill="#111"><tspan font-weight="bold">Mock</tspan><tspan fill="#222" stroke="#333" stroke-width="0.15"> (n = 17-16) [NS; - ]</tspan></text>
<line x1="20.6" y1="269.2" x2="34" y2="269.2" stroke="#333" stroke-width="0.85"/>
<circle cx="27.6" cy="269.2" r="2.6" fill="#111"/>
<text transform="translate(35.8,271.8) scale(1.07,1)" font-size="7.6" fill="#111"><tspan font-weight="bold">Hu WT TCR gp100</tspan><tspan fill="#222" stroke="#333" stroke-width="0.15"> (n = 17-16) [p = 0.0687; NS]</tspan></text>
<line x1="20.6" y1="281" x2="34" y2="281" stroke="#333" stroke-width="0.85"/>
<polygon points="27.6,278.01 30.59,281 27.6,283.99 24.61,281" fill="none" stroke="#111" stroke-width="1.1"/>
<text transform="translate(35.8,283.6) scale(1.07,1)" font-size="7.6" fill="#111"><tspan font-weight="bold">Matrigel</tspan><tspan fill="#222" stroke="#333" stroke-width="0.15"> (n = 11)</tspan></text>
<line x1="300.2" y1="246.5" x2="314.3" y2="246.5" stroke="#333" stroke-width="0.85"/>
<rect x="305.25" y="244.2" width="4.6" height="4.6" fill="none" stroke="#333" stroke-width="1.1"/>
<text transform="translate(315.8,249.1) scale(1.07,1)" font-size="7.6" fill="#111"><tspan font-weight="bold">PBS</tspan><tspan fill="#222" stroke="#333" stroke-width="0.15"> (n = 16) [ - ; NS]</tspan></text>
<line x1="300.2" y1="257.7" x2="314.3" y2="257.7" stroke="#333" stroke-width="0.85"/>
<polygon points="307.55,254.94 310.31,259.91 304.79,259.91" fill="#111"/>
<text transform="translate(315.8,260.3) scale(1.07,1)" font-size="7.6" fill="#111"><tspan font-weight="bold">Chim scTCR gp100</tspan><tspan fill="#222" stroke="#333" stroke-width="0.15"> (n = 11-10) [p = 0.0053; NS]</tspan></text>
<line x1="300.2" y1="269.3" x2="314.3" y2="269.3" stroke="#333" stroke-width="0.85"/>
<polygon points="305.02,267.28 310.08,267.28 307.55,271.83" fill="none" stroke="#111" stroke-width="1.1" stroke-linejoin="round"/>
<text transform="translate(315.8,271.9) scale(1.07,1)" font-size="7.6" fill="#111"><tspan font-weight="bold">Chim scTCR gp100 / Mu C&#945;</tspan><tspan fill="#222" stroke="#333" stroke-width="0.15"> (n = 19-18)</tspan></text>
<text transform="translate(315.8,281.9) scale(1.07,1)" font-size="7.6" fill="#222" stroke="#333" stroke-width="0.15">[p = 0.0384; NS]</text>
<line x1="300.2" y1="290.9" x2="314.3" y2="290.9" stroke="#333" stroke-width="0.85"/>
<polygon points="307.55,287.68 310.77,290.9 307.55,294.12 304.33,290.9" fill="#111"/>
<text transform="translate(315.8,293.5) scale(1.07,1)" font-size="7.6" fill="#111"><tspan font-weight="bold">Chim scTCR gp100 S79C / Mu C&#945; T84C</tspan><tspan fill="#222" stroke="#333" stroke-width="0.15"> (n = 17-16)</tspan></text>
<text transform="translate(315.8,303) scale(1.07,1)" font-size="7.6" fill="#222" stroke="#333" stroke-width="0.15">[p = 0.0012; p = 0.0600]</text>
<line x1="19.8" y1="753.7" x2="33.5" y2="753.7" stroke="#333" stroke-width="0.85"/>
<rect x="24.65" y="751.4" width="4.6" height="4.6" fill="none" stroke="#333" stroke-width="1.1"/>
<text transform="translate(35.5,756.3) scale(1.07,1)" font-size="7.6" fill="#111"><tspan font-weight="bold">PBS</tspan><tspan fill="#222" stroke="#333" stroke-width="0.15"> (n = 10-9) [ - ; NS]</tspan></text>
<line x1="19.8" y1="765.3" x2="33.5" y2="765.3" stroke="#333" stroke-width="0.85"/>
<circle cx="26.95" cy="765.3" r="2.3" fill="none" stroke="#111" stroke-width="1.1"/>
<text transform="translate(35.5,767.9) scale(1.07,1)" font-size="7.6" fill="#111"><tspan font-weight="bold">Mock</tspan><tspan fill="#222" stroke="#333" stroke-width="0.15"> (n = 12-10) [NS; - ]</tspan></text>
<line x1="19.8" y1="777.5" x2="33.5" y2="777.5" stroke="#333" stroke-width="0.85"/>
<circle cx="26.95" cy="777.5" r="2.6" fill="#111"/>
<text transform="translate(35.5,780.1) scale(1.07,1)" font-size="7.6" fill="#111"><tspan font-weight="bold">Hu WT TCR gp100</tspan><tspan fill="#222" stroke="#333" stroke-width="0.15"> (n = 7) [NS; NS]</tspan></text>
<line x1="19.8" y1="789" x2="33.5" y2="789" stroke="#333" stroke-width="0.85"/>
<polygon points="26.95,786.01 29.94,789 26.95,791.99 23.96,789" fill="none" stroke="#111" stroke-width="1.1"/>
<text transform="translate(35.5,791.6) scale(1.07,1)" font-size="7.6" fill="#111"><tspan font-weight="bold">Matrigel</tspan><tspan fill="#222" stroke="#333" stroke-width="0.15"> (n = 6)</tspan></text>
<line x1="300.8" y1="754.2" x2="314.2" y2="754.2" stroke="#333" stroke-width="0.85"/>
<rect x="305.5" y="751.9" width="4.6" height="4.6" fill="none" stroke="#333" stroke-width="1.1"/>
<text transform="translate(315.6,756.8) scale(1.07,1)" font-size="7.6" fill="#111"><tspan font-weight="bold">PBS</tspan><tspan fill="#222" stroke="#333" stroke-width="0.15"> (n = 10-9) [ - ; NS]</tspan></text>
<line x1="300.8" y1="765.8" x2="314.2" y2="765.8" stroke="#333" stroke-width="0.85"/>
<polygon points="307.8,763.04 310.56,768.01 305.04,768.01" fill="#111"/>
<text transform="translate(315.6,768.4) scale(1.07,1)" font-size="7.6" fill="#111"><tspan font-weight="bold">Chim scTCR gp100</tspan><tspan fill="#222" stroke="#333" stroke-width="0.15"> (n = 9) [NS; NS]</tspan></text>
<line x1="300.8" y1="777.3" x2="314.2" y2="777.3" stroke="#333" stroke-width="0.85"/>
<polygon points="305.27,775.28 310.33,775.28 307.8,779.83" fill="none" stroke="#111" stroke-width="1.1" stroke-linejoin="round"/>
<text transform="translate(315.6,779.9) scale(1.07,1)" font-size="7.6" fill="#111"><tspan font-weight="bold">Chim scTCR gp100 / Mu C&#945;</tspan><tspan fill="#222" stroke="#333" stroke-width="0.15"> (n = 10)</tspan></text>
<text transform="translate(315.6,790.3) scale(1.07,1)" font-size="7.6" fill="#222" stroke="#333" stroke-width="0.15">[p = 0.0014; p = 0.0048]</text>
<line x1="300.8" y1="798.8" x2="314.2" y2="798.8" stroke="#333" stroke-width="0.85"/>
<polygon points="307.8,795.58 311.02,798.8 307.8,802.02 304.58,798.8" fill="#111"/>
<text transform="translate(315.6,801.4) scale(1.07,1)" font-size="7.6" fill="#111"><tspan font-weight="bold">Chim scTCR gp100 S79C / Mu C&#945; T84C</tspan><tspan fill="#222" stroke="#333" stroke-width="0.15"> (n = 7)</tspan></text>
<text transform="translate(315.6,812) scale(1.07,1)" font-size="7.6" fill="#222" stroke="#333" stroke-width="0.15">[p = 0.0007; p = 0.0036]</text>
<line x1="35.2" y1="331.2" x2="35.2" y2="457.2" stroke="#111" stroke-width="1.5"/>
<line x1="31.4" y1="456.6" x2="35.2" y2="456.6" stroke="#111" stroke-width="1.2"/>
<text transform="translate(30,458.9) scale(1.07,1)" font-size="6.5" font-weight="bold" text-anchor="end" fill="#111" textLength="3.36" lengthAdjust="spacingAndGlyphs" stroke="#111" stroke-width="0.15">0</text>
<line x1="31.4" y1="441" x2="35.2" y2="441" stroke="#111" stroke-width="1.2"/>
<text transform="translate(30,443.3) scale(1.07,1)" font-size="6.5" font-weight="bold" text-anchor="end" fill="#111" textLength="6.54" lengthAdjust="spacingAndGlyphs" stroke="#111" stroke-width="0.15">20</text>
<line x1="31.4" y1="425.4" x2="35.2" y2="425.4" stroke="#111" stroke-width="1.2"/>
<text transform="translate(30,427.7) scale(1.07,1)" font-size="6.5" font-weight="bold" text-anchor="end" fill="#111" textLength="6.54" lengthAdjust="spacingAndGlyphs" stroke="#111" stroke-width="0.15">40</text>
<line x1="31.4" y1="409.8" x2="35.2" y2="409.8" stroke="#111" stroke-width="1.2"/>
<text transform="translate(30,412.1) scale(1.07,1)" font-size="6.5" font-weight="bold" text-anchor="end" fill="#111" textLength="6.54" lengthAdjust="spacingAndGlyphs" stroke="#111" stroke-width="0.15">60</text>
<line x1="31.4" y1="394.2" x2="35.2" y2="394.2" stroke="#111" stroke-width="1.2"/>
<text transform="translate(30,396.5) scale(1.07,1)" font-size="6.5" font-weight="bold" text-anchor="end" fill="#111" textLength="6.54" lengthAdjust="spacingAndGlyphs" stroke="#111" stroke-width="0.15">80</text>
<line x1="31.4" y1="378.6" x2="35.2" y2="378.6" stroke="#111" stroke-width="1.2"/>
<text transform="translate(30,380.9) scale(1.07,1)" font-size="6.5" font-weight="bold" text-anchor="end" fill="#111" textLength="9.81" lengthAdjust="spacingAndGlyphs" stroke="#111" stroke-width="0.15">100</text>
<line x1="31.4" y1="363" x2="35.2" y2="363" stroke="#111" stroke-width="1.2"/>
<text transform="translate(30,365.3) scale(1.07,1)" font-size="6.5" font-weight="bold" text-anchor="end" fill="#111" textLength="9.81" lengthAdjust="spacingAndGlyphs" stroke="#111" stroke-width="0.15">120</text>
<line x1="31.4" y1="347.4" x2="35.2" y2="347.4" stroke="#111" stroke-width="1.2"/>
<text transform="translate(30,349.7) scale(1.07,1)" font-size="6.5" font-weight="bold" text-anchor="end" fill="#111" textLength="9.81" lengthAdjust="spacingAndGlyphs" stroke="#111" stroke-width="0.15">140</text>
<line x1="31.4" y1="331.8" x2="35.2" y2="331.8" stroke="#111" stroke-width="1.2"/>
<text transform="translate(30,334.1) scale(1.07,1)" font-size="6.5" font-weight="bold" text-anchor="end" fill="#111" textLength="9.81" lengthAdjust="spacingAndGlyphs" stroke="#111" stroke-width="0.15">160</text>
<text transform="translate(12.9,390.8) scale(1.07,1) rotate(-90)" font-size="8.8" font-weight="bold" text-anchor="middle" fill="#111" stroke="#111" stroke-width="0.22">tumor volume (mm<tspan dy="-3.9" font-size="6.6">3</tspan><tspan dy="3.9">)</tspan></text>
<text transform="translate(45.7,340.5) scale(1.07,1)" font-size="16.5" font-weight="bold" text-anchor="start" fill="#111">ii</text>
<line x1="47.8" y1="475" x2="232.3" y2="475" stroke="#111" stroke-width="1.6"/>
<line x1="71" y1="475" x2="71" y2="479.2" stroke="#111" stroke-width="1.3"/>
<line x1="116.9" y1="475" x2="116.9" y2="479.2" stroke="#111" stroke-width="1.3"/>
<line x1="162.9" y1="475" x2="162.9" y2="479.2" stroke="#111" stroke-width="1.3"/>
<line x1="208.6" y1="475" x2="208.6" y2="479.2" stroke="#111" stroke-width="1.3"/>
<line x1="71" y1="485.3" x2="208.6" y2="485.3" stroke="#555" stroke-width="1.2"/>
<text transform="translate(137.8,496.7) scale(1.07,1)" font-size="9" font-weight="bold" text-anchor="middle" fill="#111" textLength="28.97" lengthAdjust="spacingAndGlyphs">day 25</text>
<rect x="68.85" y="337.45" width="4.3" height="4.3" fill="none" stroke="#333" stroke-width="0.9"/>
<rect x="68.85" y="364.75" width="4.3" height="4.3" fill="none" stroke="#333" stroke-width="0.9"/>
<rect x="68.85" y="374.89" width="4.3" height="4.3" fill="none" stroke="#333" stroke-width="0.9"/>
<rect x="74.75" y="374.89" width="4.3" height="4.3" fill="none" stroke="#333" stroke-width="0.9"/>
<rect x="68.85" y="385.03" width="4.3" height="4.3" fill="none" stroke="#333" stroke-width="0.9"/>
<rect x="68.85" y="396.73" width="4.3" height="4.3" fill="none" stroke="#333" stroke-width="0.9"/>
<rect x="57.05" y="410.77" width="4.3" height="4.3" fill="none" stroke="#333" stroke-width="0.9"/>
<rect x="62.95" y="410.77" width="4.3" height="4.3" fill="none" stroke="#333" stroke-width="0.9"/>
<rect x="74.75" y="410.77" width="4.3" height="4.3" fill="none" stroke="#333" stroke-width="0.9"/>
<rect x="80.65" y="410.77" width="4.3" height="4.3" fill="none" stroke="#333" stroke-width="0.9"/>
<rect x="68.85" y="413.89" width="4.3" height="4.3" fill="none" stroke="#333" stroke-width="0.9"/>
<rect x="57.05" y="424.03" width="4.3" height="4.3" fill="none" stroke="#333" stroke-width="0.9"/>
<rect x="62.95" y="424.03" width="4.3" height="4.3" fill="none" stroke="#333" stroke-width="0.9"/>
<rect x="80.65" y="424.03" width="4.3" height="4.3" fill="none" stroke="#333" stroke-width="0.9"/>
<rect x="68.85" y="429.1" width="4.3" height="4.3" fill="none" stroke="#333" stroke-width="0.9"/>
<rect x="74.75" y="429.1" width="4.3" height="4.3" fill="none" stroke="#333" stroke-width="0.9"/>
<line x1="55.3" y1="403.56" x2="86.7" y2="403.56" stroke="#111" stroke-width="1.6"/>
<line x1="62.9" y1="396.54" x2="79.1" y2="396.54" stroke="#111" stroke-width="1.5"/>
<line x1="62.9" y1="409.8" x2="79.1" y2="409.8" stroke="#111" stroke-width="1.5"/>
<line x1="71" y1="396.54" x2="71" y2="409.8" stroke="#111" stroke-width="1.5"/>
<circle cx="111" cy="377.04" r="2.15" fill="none" stroke="#333" stroke-width="0.9"/>
<circle cx="116.9" cy="377.04" r="2.15" fill="none" stroke="#333" stroke-width="0.9"/>
<circle cx="122.8" cy="377.04" r="2.15" fill="none" stroke="#333" stroke-width="0.9"/>
<circle cx="116.9" cy="383.28" r="2.15" fill="none" stroke="#333" stroke-width="0.9"/>
<circle cx="111" cy="398.1" r="2.15" fill="none" stroke="#333" stroke-width="0.9"/>
<circle cx="116.9" cy="398.1" r="2.15" fill="none" stroke="#333" stroke-width="0.9"/>
<circle cx="122.8" cy="398.1" r="2.15" fill="none" stroke="#333" stroke-width="0.9"/>
<circle cx="128.7" cy="398.1" r="2.15" fill="none" stroke="#333" stroke-width="0.9"/>
<circle cx="116.9" cy="405.9" r="2.15" fill="none" stroke="#333" stroke-width="0.9"/>
<circle cx="116.9" cy="412.92" r="2.15" fill="none" stroke="#333" stroke-width="0.9"/>
<circle cx="116.9" cy="421.11" r="2.15" fill="none" stroke="#333" stroke-width="0.9"/>
<circle cx="105.1" cy="426.18" r="2.15" fill="none" stroke="#333" stroke-width="0.9"/>
<circle cx="128.7" cy="426.18" r="2.15" fill="none" stroke="#333" stroke-width="0.9"/>
<circle cx="111" cy="431.25" r="2.15" fill="none" stroke="#333" stroke-width="0.9"/>
<circle cx="116.9" cy="431.25" r="2.15" fill="none" stroke="#333" stroke-width="0.9"/>
<circle cx="122.8" cy="431.25" r="2.15" fill="none" stroke="#333" stroke-width="0.9"/>
<line x1="101.2" y1="405.59" x2="132.6" y2="405.59" stroke="#111" stroke-width="1.6"/>
<line x1="108.8" y1="400.44" x2="125" y2="400.44" stroke="#111" stroke-width="1.5"/>
<line x1="108.8" y1="410.81" x2="125" y2="410.81" stroke="#111" stroke-width="1.5"/>
<line x1="116.9" y1="400.44" x2="116.9" y2="410.81" stroke="#111" stroke-width="1.5"/>
<circle cx="162.9" cy="339.21" r="2.25" fill="#111"/>
<circle cx="162.9" cy="377.04" r="2.25" fill="#111"/>
<circle cx="168.8" cy="377.04" r="2.25" fill="#111"/>
<circle cx="162.9" cy="405.51" r="2.25" fill="#111"/>
<circle cx="162.9" cy="412.92" r="2.25" fill="#111"/>
<circle cx="168.8" cy="412.92" r="2.25" fill="#111"/>
<circle cx="151.1" cy="425.71" r="2.25" fill="#111"/>
<circle cx="165.85" cy="425.71" r="2.25" fill="#111"/>
<circle cx="174.7" cy="425.71" r="2.25" fill="#111"/>
<circle cx="157" cy="431.09" r="2.25" fill="#111"/>
<circle cx="162.9" cy="431.09" r="2.25" fill="#111"/>
<circle cx="168.8" cy="431.09" r="2.25" fill="#111"/>
<circle cx="157" cy="436.79" r="2.25" fill="#111"/>
<circle cx="162.9" cy="440.61" r="2.25" fill="#111"/>
<circle cx="162.9" cy="447.24" r="2.25" fill="#111"/>
<line x1="147.2" y1="415.03" x2="178.6" y2="415.03" stroke="#111" stroke-width="1.6"/>
<line x1="154.8" y1="407.93" x2="171" y2="407.93" stroke="#111" stroke-width="1.5"/>
<line x1="154.8" y1="421.97" x2="171" y2="421.97" stroke="#111" stroke-width="1.5"/>
<line x1="162.9" y1="407.93" x2="162.9" y2="421.97" stroke="#111" stroke-width="1.5"/>
<line x1="192.7" y1="456.6" x2="224.5" y2="456.6" stroke="#111" stroke-width="1.6"/>
<rect x="204.1" y="454.6" width="9" height="4" fill="#1a1a1a"/>
<polygon points="195.4,453.7 197.72,456.6 195.4,459.5 193.08,456.6" fill="none" stroke="#111" stroke-width="1.0"/>
<polygon points="198.6,453.7 200.92,456.6 198.6,459.5 196.28,456.6" fill="none" stroke="#111" stroke-width="1.0"/>
<polygon points="201.8,453.7 204.12,456.6 201.8,459.5 199.48,456.6" fill="none" stroke="#111" stroke-width="1.0"/>
<polygon points="205,453.7 207.32,456.6 205,459.5 202.68,456.6" fill="none" stroke="#111" stroke-width="1.0"/>
<polygon points="207.6,453.7 209.92,456.6 207.6,459.5 205.28,456.6" fill="none" stroke="#111" stroke-width="1.0"/>
<polygon points="209.4,453.7 211.72,456.6 209.4,459.5 207.08,456.6" fill="none" stroke="#111" stroke-width="1.0"/>
<polygon points="211.2,453.7 213.52,456.6 211.2,459.5 208.88,456.6" fill="none" stroke="#111" stroke-width="1.0"/>
<polygon points="213.8,453.7 216.12,456.6 213.8,459.5 211.48,456.6" fill="none" stroke="#111" stroke-width="1.0"/>
<polygon points="217,453.7 219.32,456.6 217,459.5 214.68,456.6" fill="none" stroke="#111" stroke-width="1.0"/>
<polygon points="220.2,453.7 222.52,456.6 220.2,459.5 217.88,456.6" fill="none" stroke="#111" stroke-width="1.0"/>
<polygon points="223,453.7 225.32,456.6 223,459.5 220.68,456.6" fill="none" stroke="#111" stroke-width="1.0"/>
<line x1="315.6" y1="331.4" x2="315.6" y2="457.3" stroke="#111" stroke-width="1.5"/>
<line x1="311.8" y1="456.7" x2="315.6" y2="456.7" stroke="#111" stroke-width="1.2"/>
<text transform="translate(310.4,459) scale(1.07,1)" font-size="6.5" font-weight="bold" text-anchor="end" fill="#111" textLength="3.36" lengthAdjust="spacingAndGlyphs" stroke="#111" stroke-width="0.15">0</text>
<line x1="311.8" y1="441.11" x2="315.6" y2="441.11" stroke="#111" stroke-width="1.2"/>
<text transform="translate(310.4,443.41) scale(1.07,1)" font-size="6.5" font-weight="bold" text-anchor="end" fill="#111" textLength="6.54" lengthAdjust="spacingAndGlyphs" stroke="#111" stroke-width="0.15">20</text>
<line x1="311.8" y1="425.52" x2="315.6" y2="425.52" stroke="#111" stroke-width="1.2"/>
<text transform="translate(310.4,427.82) scale(1.07,1)" font-size="6.5" font-weight="bold" text-anchor="end" fill="#111" textLength="6.54" lengthAdjust="spacingAndGlyphs" stroke="#111" stroke-width="0.15">40</text>
<line x1="311.8" y1="409.94" x2="315.6" y2="409.94" stroke="#111" stroke-width="1.2"/>
<text transform="translate(310.4,412.24) scale(1.07,1)" font-size="6.5" font-weight="bold" text-anchor="end" fill="#111" textLength="6.54" lengthAdjust="spacingAndGlyphs" stroke="#111" stroke-width="0.15">60</text>
<line x1="311.8" y1="394.35" x2="315.6" y2="394.35" stroke="#111" stroke-width="1.2"/>
<text transform="translate(310.4,396.65) scale(1.07,1)" font-size="6.5" font-weight="bold" text-anchor="end" fill="#111" textLength="6.54" lengthAdjust="spacingAndGlyphs" stroke="#111" stroke-width="0.15">80</text>
<line x1="311.8" y1="378.76" x2="315.6" y2="378.76" stroke="#111" stroke-width="1.2"/>
<text transform="translate(310.4,381.06) scale(1.07,1)" font-size="6.5" font-weight="bold" text-anchor="end" fill="#111" textLength="9.81" lengthAdjust="spacingAndGlyphs" stroke="#111" stroke-width="0.15">100</text>
<line x1="311.8" y1="363.18" x2="315.6" y2="363.18" stroke="#111" stroke-width="1.2"/>
<text transform="translate(310.4,365.48) scale(1.07,1)" font-size="6.5" font-weight="bold" text-anchor="end" fill="#111" textLength="9.81" lengthAdjust="spacingAndGlyphs" stroke="#111" stroke-width="0.15">120</text>
<line x1="311.8" y1="347.59" x2="315.6" y2="347.59" stroke="#111" stroke-width="1.2"/>
<text transform="translate(310.4,349.89) scale(1.07,1)" font-size="6.5" font-weight="bold" text-anchor="end" fill="#111" textLength="9.81" lengthAdjust="spacingAndGlyphs" stroke="#111" stroke-width="0.15">140</text>
<line x1="311.8" y1="332" x2="315.6" y2="332" stroke="#111" stroke-width="1.2"/>
<text transform="translate(310.4,334.3) scale(1.07,1)" font-size="6.5" font-weight="bold" text-anchor="end" fill="#111" textLength="9.81" lengthAdjust="spacingAndGlyphs" stroke="#111" stroke-width="0.15">160</text>
<text transform="translate(293.1,391.4) scale(1.07,1) rotate(-90)" font-size="8.8" font-weight="bold" text-anchor="middle" fill="#111" stroke="#111" stroke-width="0.22">tumor volume (mm<tspan dy="-3.9" font-size="6.6">3</tspan><tspan dy="3.9">)</tspan></text>
<text transform="translate(325.6,340.3) scale(1.07,1)" font-size="16.5" font-weight="bold" text-anchor="start" fill="#111">ii</text>
<line x1="328.6" y1="474.8" x2="515.7" y2="474.8" stroke="#111" stroke-width="1.6"/>
<line x1="351.6" y1="474.8" x2="351.6" y2="479" stroke="#111" stroke-width="1.3"/>
<line x1="397.4" y1="474.8" x2="397.4" y2="479" stroke="#111" stroke-width="1.3"/>
<line x1="442.9" y1="474.8" x2="442.9" y2="479" stroke="#111" stroke-width="1.3"/>
<line x1="488.3" y1="474.8" x2="488.3" y2="479" stroke="#111" stroke-width="1.3"/>
<line x1="351.6" y1="485.1" x2="488.3" y2="485.1" stroke="#555" stroke-width="1.2"/>
<text transform="translate(419.95,496.8) scale(1.07,1)" font-size="9" font-weight="bold" text-anchor="middle" fill="#111" textLength="28.97" lengthAdjust="spacingAndGlyphs">day 25</text>
<line x1="350.2" y1="322.2" x2="489.8" y2="322.2" stroke="#4a4a4a" stroke-width="1.3"/>
<text transform="translate(397.2,319.8) scale(1.07,1)" font-size="8.4" font-weight="bold" fill="#111" text-anchor="start" textLength="35.51" lengthAdjust="spacingAndGlyphs"><tspan font-style="italic">P</tspan> = .0066</text>
<line x1="396.3" y1="338.1" x2="489.8" y2="338.1" stroke="#4a4a4a" stroke-width="1.3"/>
<text transform="translate(418.7,335.8) scale(1.07,1)" font-size="8.4" font-weight="bold" fill="#111" text-anchor="start" textLength="37.01" lengthAdjust="spacingAndGlyphs"><tspan font-style="italic">P</tspan> = .0420</text>
<rect x="349.45" y="336.86" width="4.3" height="4.3" fill="none" stroke="#333" stroke-width="0.9"/>
<rect x="349.45" y="364.92" width="4.3" height="4.3" fill="none" stroke="#333" stroke-width="0.9"/>
<rect x="349.45" y="374.66" width="4.3" height="4.3" fill="none" stroke="#333" stroke-width="0.9"/>
<rect x="355.35" y="374.66" width="4.3" height="4.3" fill="none" stroke="#333" stroke-width="0.9"/>
<rect x="349.45" y="385.19" width="4.3" height="4.3" fill="none" stroke="#333" stroke-width="0.9"/>
<rect x="349.45" y="396.88" width="4.3" height="4.3" fill="none" stroke="#333" stroke-width="0.9"/>
<rect x="337.65" y="411.14" width="4.3" height="4.3" fill="none" stroke="#333" stroke-width="0.9"/>
<rect x="343.55" y="411.14" width="4.3" height="4.3" fill="none" stroke="#333" stroke-width="0.9"/>
<rect x="355.35" y="411.14" width="4.3" height="4.3" fill="none" stroke="#333" stroke-width="0.9"/>
<rect x="361.25" y="411.14" width="4.3" height="4.3" fill="none" stroke="#333" stroke-width="0.9"/>
<rect x="349.45" y="414.8" width="4.3" height="4.3" fill="none" stroke="#333" stroke-width="0.9"/>
<rect x="337.65" y="424.62" width="4.3" height="4.3" fill="none" stroke="#333" stroke-width="0.9"/>
<rect x="343.55" y="424.62" width="4.3" height="4.3" fill="none" stroke="#333" stroke-width="0.9"/>
<rect x="361.25" y="424.62" width="4.3" height="4.3" fill="none" stroke="#333" stroke-width="0.9"/>
<rect x="349.45" y="429.84" width="4.3" height="4.3" fill="none" stroke="#333" stroke-width="0.9"/>
<rect x="355.35" y="429.84" width="4.3" height="4.3" fill="none" stroke="#333" stroke-width="0.9"/>
<line x1="335.9" y1="404.09" x2="367.3" y2="404.09" stroke="#111" stroke-width="1.6"/>
<line x1="343.5" y1="397" x2="359.7" y2="397" stroke="#111" stroke-width="1.5"/>
<line x1="343.5" y1="410.72" x2="359.7" y2="410.72" stroke="#111" stroke-width="1.5"/>
<line x1="351.6" y1="397" x2="351.6" y2="410.72" stroke="#111" stroke-width="1.5"/>
<polygon points="397.4,349.98 399.68,354.09 395.12,354.09" fill="#111"/>
<polygon points="397.4,374.92 399.68,379.03 395.12,379.03" fill="#111"/>
<polygon points="397.4,388.95 399.68,393.06 395.12,393.06" fill="#111"/>
<polygon points="397.4,404.54 399.68,408.64 395.12,408.64" fill="#111"/>
<polygon points="397.4,411.55 399.68,415.66 395.12,415.66" fill="#111"/>
<polygon points="403.3,419.58 405.58,423.69 401.02,423.69" fill="#111"/>
<polygon points="391.5,424.8 393.78,428.91 389.22,428.91" fill="#111"/>
<polygon points="397.4,424.8 399.68,428.91 395.12,428.91" fill="#111"/>
<polygon points="403.3,430.26 405.58,434.36 401.02,434.36" fill="#111"/>
<polygon points="397.4,436.18 399.68,440.29 395.12,440.29" fill="#111"/>
<line x1="381.7" y1="408.38" x2="413.1" y2="408.38" stroke="#111" stroke-width="1.6"/>
<line x1="389.3" y1="399.65" x2="405.5" y2="399.65" stroke="#111" stroke-width="1.5"/>
<line x1="389.3" y1="417.11" x2="405.5" y2="417.11" stroke="#111" stroke-width="1.5"/>
<line x1="397.4" y1="399.65" x2="397.4" y2="417.11" stroke="#111" stroke-width="1.5"/>
<polygon points="440.7,374.66 445.1,374.66 442.9,378.62" fill="none" stroke="#333" stroke-width="0.9" stroke-linejoin="round"/>
<polygon points="434.8,383.47 439.2,383.47 437,387.43" fill="none" stroke="#333" stroke-width="0.9" stroke-linejoin="round"/>
<polygon points="440.7,388.69 445.1,388.69 442.9,392.65" fill="none" stroke="#333" stroke-width="0.9" stroke-linejoin="round"/>
<polygon points="440.7,396.1 445.1,396.1 442.9,400.06" fill="none" stroke="#333" stroke-width="0.9" stroke-linejoin="round"/>
<polygon points="434.8,403.5 439.2,403.5 437,407.46" fill="none" stroke="#333" stroke-width="0.9" stroke-linejoin="round"/>
<polygon points="440.7,403.5 445.1,403.5 442.9,407.46" fill="none" stroke="#333" stroke-width="0.9" stroke-linejoin="round"/>
<polygon points="446.6,403.5 451,403.5 448.8,407.46" fill="none" stroke="#333" stroke-width="0.9" stroke-linejoin="round"/>
<polygon points="434.8,410.52 439.2,410.52 437,414.48" fill="none" stroke="#333" stroke-width="0.9" stroke-linejoin="round"/>
<polygon points="440.7,410.52 445.1,410.52 442.9,414.48" fill="none" stroke="#333" stroke-width="0.9" stroke-linejoin="round"/>
<polygon points="446.6,410.52 451,410.52 448.8,414.48" fill="none" stroke="#333" stroke-width="0.9" stroke-linejoin="round"/>
<polygon points="434.8,412.23 439.2,412.23 437,416.19" fill="none" stroke="#333" stroke-width="0.9" stroke-linejoin="round"/>
<polygon points="440.7,412.23 445.1,412.23 442.9,416.19" fill="none" stroke="#333" stroke-width="0.9" stroke-linejoin="round"/>
<polygon points="446.6,412.23 451,412.23 448.8,416.19" fill="none" stroke="#333" stroke-width="0.9" stroke-linejoin="round"/>
<polygon points="437.75,424 442.15,424 439.95,427.96" fill="none" stroke="#333" stroke-width="0.9" stroke-linejoin="round"/>
<polygon points="447.78,424 452.18,424 449.98,427.96" fill="none" stroke="#333" stroke-width="0.9" stroke-linejoin="round"/>
<polygon points="428.9,429.61 433.3,429.61 431.1,433.57" fill="none" stroke="#333" stroke-width="0.9" stroke-linejoin="round"/>
<polygon points="434.8,429.61 439.2,429.61 437,433.57" fill="none" stroke="#333" stroke-width="0.9" stroke-linejoin="round"/>
<polygon points="440.7,429.61 445.1,429.61 442.9,433.57" fill="none" stroke="#333" stroke-width="0.9" stroke-linejoin="round"/>
<polygon points="446.6,429.61 451,429.61 448.8,433.57" fill="none" stroke="#333" stroke-width="0.9" stroke-linejoin="round"/>
<polygon points="446.6,442.63 451,442.63 448.8,446.59" fill="none" stroke="#333" stroke-width="0.9" stroke-linejoin="round"/>
<polygon points="440.7,446.52 445.1,446.52 442.9,450.48" fill="none" stroke="#333" stroke-width="0.9" stroke-linejoin="round"/>
<line x1="427.2" y1="415.7" x2="458.6" y2="415.7" stroke="#111" stroke-width="1.6"/>
<line x1="434.8" y1="410.79" x2="451" y2="410.79" stroke="#111" stroke-width="1.5"/>
<line x1="434.8" y1="420.38" x2="451" y2="420.38" stroke="#111" stroke-width="1.5"/>
<line x1="442.9" y1="410.79" x2="442.9" y2="420.38" stroke="#111" stroke-width="1.5"/>
<polygon points="488.3,395.88 490.82,398.4 488.3,400.92 485.78,398.4" fill="#111"/>
<polygon points="482.4,403.52 484.92,406.04 482.4,408.56 479.88,406.04" fill="#111"/>
<polygon points="488.3,403.52 490.82,406.04 488.3,408.56 485.78,406.04" fill="#111"/>
<polygon points="494.2,403.52 496.72,406.04 494.2,408.56 491.68,406.04" fill="#111"/>
<polygon points="488.3,410.77 490.82,413.29 488.3,415.81 485.78,413.29" fill="#111"/>
<polygon points="482.4,425.5 484.92,428.02 482.4,430.54 479.88,428.02" fill="#111"/>
<polygon points="488.3,425.5 490.82,428.02 488.3,430.54 485.78,428.02" fill="#111"/>
<polygon points="494.2,425.5 496.72,428.02 494.2,430.54 491.68,428.02" fill="#111"/>
<polygon points="482.4,429.47 484.92,431.99 482.4,434.51 479.88,431.99" fill="#111"/>
<polygon points="494.2,429.47 496.72,431.99 494.2,434.51 491.68,431.99" fill="#111"/>
<polygon points="500.1,429.47 502.62,431.99 500.1,434.51 497.58,431.99" fill="#111"/>
<polygon points="488.3,435.94 490.82,438.46 488.3,440.98 485.78,438.46" fill="#111"/>
<polygon points="482.4,438.83 484.92,441.35 482.4,443.87 479.88,441.35" fill="#111"/>
<polygon points="488.3,442.72 490.82,445.24 488.3,447.76 485.78,445.24" fill="#111"/>
<polygon points="494.2,447.94 496.72,450.46 494.2,452.98 491.68,450.46" fill="#111"/>
<polygon points="488.3,450.05 490.82,452.57 488.3,455.09 485.78,452.57" fill="#111"/>
<line x1="472.6" y1="427.08" x2="504" y2="427.08" stroke="#111" stroke-width="1.6"/>
<line x1="480.2" y1="422.8" x2="496.4" y2="422.8" stroke="#111" stroke-width="1.5"/>
<line x1="480.2" y1="429.81" x2="496.4" y2="429.81" stroke="#111" stroke-width="1.5"/>
<line x1="488.3" y1="422.8" x2="488.3" y2="429.81" stroke="#111" stroke-width="1.5"/>
<line x1="35.2" y1="837.6" x2="35.2" y2="964.5" stroke="#111" stroke-width="1.5"/>
<line x1="31.4" y1="963.9" x2="35.2" y2="963.9" stroke="#111" stroke-width="1.2"/>
<text transform="translate(30,966.2) scale(1.07,1)" font-size="6.5" font-weight="bold" text-anchor="end" fill="#111" textLength="3.36" lengthAdjust="spacingAndGlyphs" stroke="#111" stroke-width="0.15">0</text>
<line x1="31.4" y1="948.19" x2="35.2" y2="948.19" stroke="#111" stroke-width="1.2"/>
<text transform="translate(30,950.49) scale(1.07,1)" font-size="6.5" font-weight="bold" text-anchor="end" fill="#111" textLength="6.54" lengthAdjust="spacingAndGlyphs" stroke="#111" stroke-width="0.15">20</text>
<line x1="31.4" y1="932.48" x2="35.2" y2="932.48" stroke="#111" stroke-width="1.2"/>
<text transform="translate(30,934.77) scale(1.07,1)" font-size="6.5" font-weight="bold" text-anchor="end" fill="#111" textLength="6.54" lengthAdjust="spacingAndGlyphs" stroke="#111" stroke-width="0.15">40</text>
<line x1="31.4" y1="916.76" x2="35.2" y2="916.76" stroke="#111" stroke-width="1.2"/>
<text transform="translate(30,919.06) scale(1.07,1)" font-size="6.5" font-weight="bold" text-anchor="end" fill="#111" textLength="6.54" lengthAdjust="spacingAndGlyphs" stroke="#111" stroke-width="0.15">60</text>
<line x1="31.4" y1="901.05" x2="35.2" y2="901.05" stroke="#111" stroke-width="1.2"/>
<text transform="translate(30,903.35) scale(1.07,1)" font-size="6.5" font-weight="bold" text-anchor="end" fill="#111" textLength="6.54" lengthAdjust="spacingAndGlyphs" stroke="#111" stroke-width="0.15">80</text>
<line x1="31.4" y1="885.34" x2="35.2" y2="885.34" stroke="#111" stroke-width="1.2"/>
<text transform="translate(30,887.64) scale(1.07,1)" font-size="6.5" font-weight="bold" text-anchor="end" fill="#111" textLength="9.81" lengthAdjust="spacingAndGlyphs" stroke="#111" stroke-width="0.15">100</text>
<line x1="31.4" y1="869.62" x2="35.2" y2="869.62" stroke="#111" stroke-width="1.2"/>
<text transform="translate(30,871.92) scale(1.07,1)" font-size="6.5" font-weight="bold" text-anchor="end" fill="#111" textLength="9.81" lengthAdjust="spacingAndGlyphs" stroke="#111" stroke-width="0.15">120</text>
<line x1="31.4" y1="853.91" x2="35.2" y2="853.91" stroke="#111" stroke-width="1.2"/>
<text transform="translate(30,856.21) scale(1.07,1)" font-size="6.5" font-weight="bold" text-anchor="end" fill="#111" textLength="9.81" lengthAdjust="spacingAndGlyphs" stroke="#111" stroke-width="0.15">140</text>
<line x1="31.4" y1="838.2" x2="35.2" y2="838.2" stroke="#111" stroke-width="1.2"/>
<text transform="translate(30,840.5) scale(1.07,1)" font-size="6.5" font-weight="bold" text-anchor="end" fill="#111" textLength="9.81" lengthAdjust="spacingAndGlyphs" stroke="#111" stroke-width="0.15">160</text>
<text transform="translate(12.9,896.4) scale(1.07,1) rotate(-90)" font-size="8.8" font-weight="bold" text-anchor="middle" fill="#111" stroke="#111" stroke-width="0.22">tumor volume (mm<tspan dy="-3.9" font-size="6.6">3</tspan><tspan dy="3.9">)</tspan></text>
<text transform="translate(45.5,846.7) scale(1.07,1)" font-size="16.5" font-weight="bold" text-anchor="start" fill="#111">ii</text>
<line x1="47.8" y1="981.7" x2="232.2" y2="981.7" stroke="#111" stroke-width="1.6"/>
<line x1="71" y1="981.7" x2="71" y2="985.9" stroke="#111" stroke-width="1.3"/>
<line x1="116.8" y1="981.7" x2="116.8" y2="985.9" stroke="#111" stroke-width="1.3"/>
<line x1="162.5" y1="981.7" x2="162.5" y2="985.9" stroke="#111" stroke-width="1.3"/>
<line x1="207.8" y1="981.7" x2="207.8" y2="985.9" stroke="#111" stroke-width="1.3"/>
<line x1="71" y1="992.2" x2="207.8" y2="992.2" stroke="#555" stroke-width="1.2"/>
<text transform="translate(136.8,1003.4) scale(1.07,1)" font-size="9" font-weight="bold" text-anchor="middle" fill="#111" textLength="28.97" lengthAdjust="spacingAndGlyphs">day 25</text>
<rect x="62.95" y="881.62" width="4.3" height="4.3" fill="none" stroke="#333" stroke-width="0.9"/>
<rect x="68.85" y="881.62" width="4.3" height="4.3" fill="none" stroke="#333" stroke-width="0.9"/>
<rect x="68.85" y="909.9" width="4.3" height="4.3" fill="none" stroke="#333" stroke-width="0.9"/>
<rect x="74.75" y="909.9" width="4.3" height="4.3" fill="none" stroke="#333" stroke-width="0.9"/>
<rect x="68.85" y="918.3" width="4.3" height="4.3" fill="none" stroke="#333" stroke-width="0.9"/>
<rect x="80.65" y="921.13" width="4.3" height="4.3" fill="none" stroke="#333" stroke-width="0.9"/>
<rect x="62.95" y="926.4" width="4.3" height="4.3" fill="none" stroke="#333" stroke-width="0.9"/>
<rect x="68.85" y="926.4" width="4.3" height="4.3" fill="none" stroke="#333" stroke-width="0.9"/>
<rect x="74.75" y="926.4" width="4.3" height="4.3" fill="none" stroke="#333" stroke-width="0.9"/>
<line x1="55.3" y1="913.23" x2="86.7" y2="913.23" stroke="#111" stroke-width="1.6"/>
<line x1="62.9" y1="907.18" x2="79.1" y2="907.18" stroke="#111" stroke-width="1.5"/>
<line x1="62.9" y1="919.28" x2="79.1" y2="919.28" stroke="#111" stroke-width="1.5"/>
<line x1="71" y1="907.18" x2="71" y2="919.28" stroke="#111" stroke-width="1.5"/>
<circle cx="116.8" cy="883.45" r="2.15" fill="none" stroke="#333" stroke-width="0.9"/>
<circle cx="116.8" cy="897.67" r="2.15" fill="none" stroke="#333" stroke-width="0.9"/>
<circle cx="116.8" cy="905.45" r="2.15" fill="none" stroke="#333" stroke-width="0.9"/>
<circle cx="116.8" cy="919.9" r="2.15" fill="none" stroke="#333" stroke-width="0.9"/>
<circle cx="110.9" cy="928" r="2.15" fill="none" stroke="#333" stroke-width="0.9"/>
<circle cx="116.8" cy="928" r="2.15" fill="none" stroke="#333" stroke-width="0.9"/>
<circle cx="122.7" cy="928" r="2.15" fill="none" stroke="#333" stroke-width="0.9"/>
<circle cx="116.8" cy="938.92" r="2.15" fill="none" stroke="#333" stroke-width="0.9"/>
<circle cx="122.7" cy="947.87" r="2.15" fill="none" stroke="#333" stroke-width="0.9"/>
<circle cx="116.8" cy="951.33" r="2.15" fill="none" stroke="#333" stroke-width="0.9"/>
<line x1="101.1" y1="922.73" x2="132.5" y2="922.73" stroke="#111" stroke-width="1.6"/>
<line x1="108.7" y1="916.13" x2="124.9" y2="916.13" stroke="#111" stroke-width="1.5"/>
<line x1="108.7" y1="929.18" x2="124.9" y2="929.18" stroke="#111" stroke-width="1.5"/>
<line x1="116.8" y1="916.13" x2="116.8" y2="929.18" stroke="#111" stroke-width="1.5"/>
<circle cx="161.32" cy="873.55" r="2.25" fill="#111"/>
<circle cx="162.5" cy="905.37" r="2.25" fill="#111"/>
<circle cx="162.5" cy="912.28" r="2.25" fill="#111"/>
<circle cx="162.5" cy="932.87" r="2.25" fill="#111"/>
<circle cx="156.01" cy="944.42" r="2.25" fill="#111"/>
<circle cx="162.5" cy="947.87" r="2.25" fill="#111"/>
<circle cx="168.4" cy="947.87" r="2.25" fill="#111"/>
<line x1="146.8" y1="923.28" x2="178.2" y2="923.28" stroke="#111" stroke-width="1.6"/>
<line x1="154.4" y1="913.07" x2="170.6" y2="913.07" stroke="#111" stroke-width="1.5"/>
<line x1="154.4" y1="934.2" x2="170.6" y2="934.2" stroke="#111" stroke-width="1.5"/>
<line x1="162.5" y1="913.07" x2="162.5" y2="934.2" stroke="#111" stroke-width="1.5"/>
<line x1="192.4" y1="963.9" x2="224.2" y2="963.9" stroke="#111" stroke-width="1.6"/>
<polygon points="196.3,961 198.62,963.9 196.3,966.8 193.98,963.9" fill="none" stroke="#111" stroke-width="1.0"/>
<polygon points="202.3,961 204.62,963.9 202.3,966.8 199.98,963.9" fill="none" stroke="#111" stroke-width="1.0"/>
<polygon points="208.1,961 210.42,963.9 208.1,966.8 205.78,963.9" fill="none" stroke="#111" stroke-width="1.0"/>
<polygon points="210.8,961 213.12,963.9 210.8,966.8 208.48,963.9" fill="none" stroke="#111" stroke-width="1.0"/>
<polygon points="213.8,961 216.12,963.9 213.8,966.8 211.48,963.9" fill="none" stroke="#111" stroke-width="1.0"/>
<polygon points="220.1,961 222.42,963.9 220.1,966.8 217.78,963.9" fill="none" stroke="#111" stroke-width="1.0"/>
<line x1="314.8" y1="837.4" x2="314.8" y2="964.8" stroke="#111" stroke-width="1.5"/>
<line x1="311" y1="964.2" x2="314.8" y2="964.2" stroke="#111" stroke-width="1.2"/>
<text transform="translate(309.6,966.5) scale(1.07,1)" font-size="6.5" font-weight="bold" text-anchor="end" fill="#111" textLength="3.36" lengthAdjust="spacingAndGlyphs" stroke="#111" stroke-width="0.15">0</text>
<line x1="311" y1="948.43" x2="314.8" y2="948.43" stroke="#111" stroke-width="1.2"/>
<text transform="translate(309.6,950.73) scale(1.07,1)" font-size="6.5" font-weight="bold" text-anchor="end" fill="#111" textLength="6.54" lengthAdjust="spacingAndGlyphs" stroke="#111" stroke-width="0.15">20</text>
<line x1="311" y1="932.65" x2="314.8" y2="932.65" stroke="#111" stroke-width="1.2"/>
<text transform="translate(309.6,934.95) scale(1.07,1)" font-size="6.5" font-weight="bold" text-anchor="end" fill="#111" textLength="6.54" lengthAdjust="spacingAndGlyphs" stroke="#111" stroke-width="0.15">40</text>
<line x1="311" y1="916.88" x2="314.8" y2="916.88" stroke="#111" stroke-width="1.2"/>
<text transform="translate(309.6,919.17) scale(1.07,1)" font-size="6.5" font-weight="bold" text-anchor="end" fill="#111" textLength="6.54" lengthAdjust="spacingAndGlyphs" stroke="#111" stroke-width="0.15">60</text>
<line x1="311" y1="901.1" x2="314.8" y2="901.1" stroke="#111" stroke-width="1.2"/>
<text transform="translate(309.6,903.4) scale(1.07,1)" font-size="6.5" font-weight="bold" text-anchor="end" fill="#111" textLength="6.54" lengthAdjust="spacingAndGlyphs" stroke="#111" stroke-width="0.15">80</text>
<line x1="311" y1="885.33" x2="314.8" y2="885.33" stroke="#111" stroke-width="1.2"/>
<text transform="translate(309.6,887.62) scale(1.07,1)" font-size="6.5" font-weight="bold" text-anchor="end" fill="#111" textLength="9.81" lengthAdjust="spacingAndGlyphs" stroke="#111" stroke-width="0.15">100</text>
<line x1="311" y1="869.55" x2="314.8" y2="869.55" stroke="#111" stroke-width="1.2"/>
<text transform="translate(309.6,871.85) scale(1.07,1)" font-size="6.5" font-weight="bold" text-anchor="end" fill="#111" textLength="9.81" lengthAdjust="spacingAndGlyphs" stroke="#111" stroke-width="0.15">120</text>
<line x1="311" y1="853.77" x2="314.8" y2="853.77" stroke="#111" stroke-width="1.2"/>
<text transform="translate(309.6,856.07) scale(1.07,1)" font-size="6.5" font-weight="bold" text-anchor="end" fill="#111" textLength="9.81" lengthAdjust="spacingAndGlyphs" stroke="#111" stroke-width="0.15">140</text>
<line x1="311" y1="838" x2="314.8" y2="838" stroke="#111" stroke-width="1.2"/>
<text transform="translate(309.6,840.3) scale(1.07,1)" font-size="6.5" font-weight="bold" text-anchor="end" fill="#111" textLength="9.81" lengthAdjust="spacingAndGlyphs" stroke="#111" stroke-width="0.15">160</text>
<text transform="translate(292.9,897.6) scale(1.07,1) rotate(-90)" font-size="8.8" font-weight="bold" text-anchor="middle" fill="#111" stroke="#111" stroke-width="0.22">tumor volume (mm<tspan dy="-3.9" font-size="6.6">3</tspan><tspan dy="3.9">)</tspan></text>
<text transform="translate(325.8,846.5) scale(1.07,1)" font-size="16.5" font-weight="bold" text-anchor="start" fill="#111">ii</text>
<line x1="327.5" y1="981.7" x2="511.5" y2="981.7" stroke="#111" stroke-width="1.6"/>
<line x1="350.6" y1="981.7" x2="350.6" y2="985.9" stroke="#111" stroke-width="1.3"/>
<line x1="396.3" y1="981.7" x2="396.3" y2="985.9" stroke="#111" stroke-width="1.3"/>
<line x1="442" y1="981.7" x2="442" y2="985.9" stroke="#111" stroke-width="1.3"/>
<line x1="487.8" y1="981.7" x2="487.8" y2="985.9" stroke="#111" stroke-width="1.3"/>
<line x1="350.6" y1="992.4" x2="487.8" y2="992.4" stroke="#555" stroke-width="1.2"/>
<text transform="translate(419.2,1003.5) scale(1.07,1)" font-size="9" font-weight="bold" text-anchor="middle" fill="#111" textLength="28.97" lengthAdjust="spacingAndGlyphs">day 25</text>
<line x1="350.2" y1="838.1" x2="488.6" y2="838.1" stroke="#4a4a4a" stroke-width="1.3"/>
<text transform="translate(395.1,835.9) scale(1.07,1)" font-size="8.4" font-weight="bold" fill="#111" text-anchor="start" textLength="34.95" lengthAdjust="spacingAndGlyphs"><tspan font-style="italic">P</tspan> = .0097</text>
<line x1="350.2" y1="853.5" x2="442.5" y2="853.5" stroke="#4a4a4a" stroke-width="1.3"/>
<text transform="translate(372.8,851.3) scale(1.07,1)" font-size="8.4" font-weight="bold" fill="#111" text-anchor="start" textLength="35.7" lengthAdjust="spacingAndGlyphs"><tspan font-style="italic">P</tspan> = .0017</text>
<rect x="342.55" y="881.2" width="4.3" height="4.3" fill="none" stroke="#333" stroke-width="0.9"/>
<rect x="348.45" y="881.2" width="4.3" height="4.3" fill="none" stroke="#333" stroke-width="0.9"/>
<rect x="348.45" y="909.36" width="4.3" height="4.3" fill="none" stroke="#333" stroke-width="0.9"/>
<rect x="354.35" y="909.36" width="4.3" height="4.3" fill="none" stroke="#333" stroke-width="0.9"/>
<rect x="348.45" y="918.04" width="4.3" height="4.3" fill="none" stroke="#333" stroke-width="0.9"/>
<rect x="360.25" y="920.64" width="4.3" height="4.3" fill="none" stroke="#333" stroke-width="0.9"/>
<rect x="342.55" y="925.85" width="4.3" height="4.3" fill="none" stroke="#333" stroke-width="0.9"/>
<rect x="348.45" y="925.85" width="4.3" height="4.3" fill="none" stroke="#333" stroke-width="0.9"/>
<rect x="354.35" y="925.85" width="4.3" height="4.3" fill="none" stroke="#333" stroke-width="0.9"/>
<line x1="334.9" y1="912.69" x2="366.3" y2="912.69" stroke="#111" stroke-width="1.6"/>
<line x1="342.5" y1="906.94" x2="358.7" y2="906.94" stroke="#111" stroke-width="1.5"/>
<line x1="342.5" y1="919" x2="358.7" y2="919" stroke="#111" stroke-width="1.5"/>
<line x1="350.6" y1="906.94" x2="350.6" y2="919" stroke="#111" stroke-width="1.5"/>
<polygon points="390.4,903.24 392.68,907.34 388.12,907.34" fill="#111"/>
<polygon points="396.3,903.24 398.58,907.34 394.02,907.34" fill="#111"/>
<polygon points="396.3,910.1 398.58,914.2 394.02,914.2" fill="#111"/>
<polygon points="390.4,915.62 392.68,919.72 388.12,919.72" fill="#111"/>
<polygon points="396.3,917.91 398.58,922.01 394.02,922.01" fill="#111"/>
<polygon points="396.3,931.24 398.58,935.34 394.02,935.34" fill="#111"/>
<polygon points="402.2,931.24 404.48,935.34 399.92,935.34" fill="#111"/>
<polygon points="396.3,942.52 398.58,946.62 394.02,946.62" fill="#111"/>
<polygon points="396.3,948.51 398.58,952.62 394.02,952.62" fill="#111"/>
<line x1="380.6" y1="924.53" x2="412" y2="924.53" stroke="#111" stroke-width="1.6"/>
<line x1="388.2" y1="919" x2="404.4" y2="919" stroke="#111" stroke-width="1.5"/>
<line x1="388.2" y1="930.05" x2="404.4" y2="930.05" stroke="#111" stroke-width="1.5"/>
<line x1="396.3" y1="919" x2="396.3" y2="930.05" stroke="#111" stroke-width="1.5"/>
<polygon points="439.8,919.85 444.2,919.85 442,923.81" fill="none" stroke="#333" stroke-width="0.9" stroke-linejoin="round"/>
<polygon points="428,929.63 432.4,929.63 430.2,933.59" fill="none" stroke="#333" stroke-width="0.9" stroke-linejoin="round"/>
<polygon points="433.31,929.63 437.71,929.63 435.51,933.59" fill="none" stroke="#333" stroke-width="0.9" stroke-linejoin="round"/>
<polygon points="436.85,929.63 441.25,929.63 439.05,933.59" fill="none" stroke="#333" stroke-width="0.9" stroke-linejoin="round"/>
<polygon points="439.8,929.63 444.2,929.63 442,933.59" fill="none" stroke="#333" stroke-width="0.9" stroke-linejoin="round"/>
<polygon points="442.75,929.63 447.15,929.63 444.95,933.59" fill="none" stroke="#333" stroke-width="0.9" stroke-linejoin="round"/>
<polygon points="446.29,929.63 450.69,929.63 448.49,933.59" fill="none" stroke="#333" stroke-width="0.9" stroke-linejoin="round"/>
<polygon points="451.6,929.63 456,929.63 453.8,933.59" fill="none" stroke="#333" stroke-width="0.9" stroke-linejoin="round"/>
<polygon points="433.9,944.93 438.3,944.93 436.1,948.89" fill="none" stroke="#333" stroke-width="0.9" stroke-linejoin="round"/>
<polygon points="439.8,944.93 444.2,944.93 442,948.89" fill="none" stroke="#333" stroke-width="0.9" stroke-linejoin="round"/>
<polygon points="445.7,944.93 450.1,944.93 447.9,948.89" fill="none" stroke="#333" stroke-width="0.9" stroke-linejoin="round"/>
<line x1="426.3" y1="936.28" x2="457.7" y2="936.28" stroke="#111" stroke-width="1.6"/>
<line x1="433.9" y1="934.39" x2="450.1" y2="934.39" stroke="#111" stroke-width="1.5"/>
<line x1="433.9" y1="938.88" x2="450.1" y2="938.88" stroke="#111" stroke-width="1.5"/>
<line x1="442" y1="934.39" x2="442" y2="938.88" stroke="#111" stroke-width="1.5"/>
<polygon points="487.8,909.62 490.32,912.14 487.8,914.66 485.28,912.14" fill="#111"/>
<polygon points="476,930.13 478.52,932.65 476,935.17 473.48,932.65" fill="#111"/>
<polygon points="481.9,935.89 484.42,938.41 481.9,940.93 479.38,938.41" fill="#111"/>
<polygon points="487.8,935.89 490.32,938.41 487.8,940.93 485.28,938.41" fill="#111"/>
<polygon points="493.7,935.89 496.22,938.41 493.7,940.93 491.18,938.41" fill="#111"/>
<polygon points="493.7,944.96 496.22,947.48 493.7,950 491.18,947.48" fill="#111"/>
<polygon points="487.8,948.51 490.32,951.03 487.8,953.55 485.28,951.03" fill="#111"/>
<line x1="472.1" y1="936.59" x2="503.5" y2="936.59" stroke="#111" stroke-width="1.6"/>
<line x1="479.7" y1="931.7" x2="495.9" y2="931.7" stroke="#111" stroke-width="1.5"/>
<line x1="479.7" y1="941.48" x2="495.9" y2="941.48" stroke="#111" stroke-width="1.5"/>
<line x1="487.8" y1="931.7" x2="487.8" y2="941.48" stroke="#111" stroke-width="1.5"/>
</svg>
</body></html>
